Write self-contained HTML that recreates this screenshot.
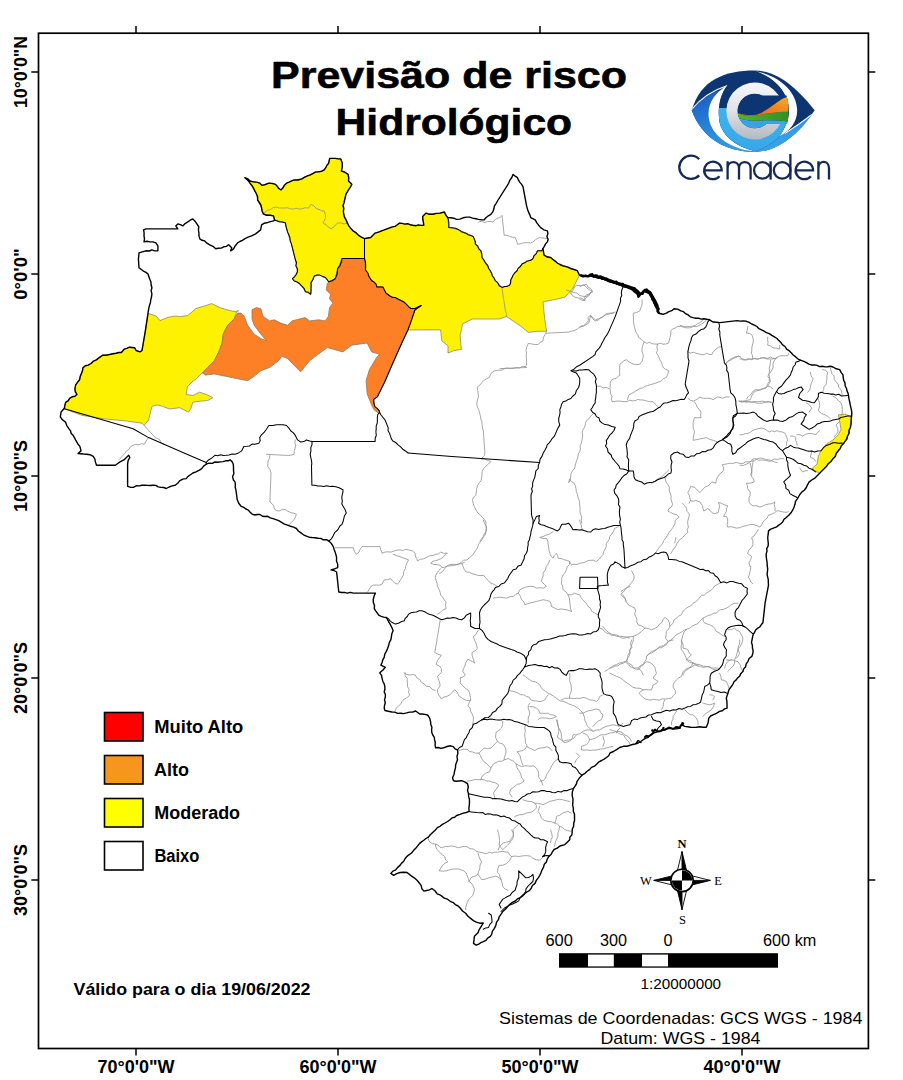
<!DOCTYPE html>
<html><head><meta charset="utf-8"><style>
html,body{margin:0;padding:0;background:#fff;}
body{width:903px;height:1080px;overflow:hidden;position:relative;font-family:"Liberation Sans",sans-serif;}
svg{position:absolute;left:0;top:0;}
</style></head><body>
<svg width="903" height="1080" viewBox="0 0 903 1080">
<rect x="0" y="0" width="903" height="1080" fill="#fff"/>
<polygon points="143.6,229.9 145.9,228.9 177.8,228.9 175.8,225.9 177.8,223.9 182.8,225.9 187.8,221.9 192.8,218.9 194.8,220.9 198.8,226.9 199.8,238.9 204.7,240.9 209.7,244.8 215.7,248.8 223.7,246.8 228.7,244.8 231.7,247.8 230.7,250.8 233.6,248.8 237.6,242.9 244.6,238.9 251.6,235.9 255.6,233.9 260.6,229.9 261.6,224.9 269.5,221.9 273.5,220.9 274.5,219.9 273.5,215.9 263.5,214.0 261.6,208.0 257.6,200.0 256.6,194.3 250.0,183.2 244.9,177.7 250.0,181.0 259.9,183.2 262.1,185.4 268.8,183.2 275.4,184.3 281.0,189.9 286.5,183.2 294.3,179.9 302.0,178.8 313.1,173.3 324.2,169.9 328.6,163.3 329.7,158.4 335.2,158.4 340.8,158.9 342.3,163.3 341.4,171.0 348.1,174.4 348.5,181.0 351.8,184.3 348.5,189.9 345.9,194.3 343.0,205.4 343.7,214.2 348.5,225.3 353.0,230.8 358.5,235.3 364.5,238.6 370.7,237.5 375.1,233.1 381.7,230.8 395.0,226.4 399.5,223.1 412.8,225.3 423.8,225.3 422.7,216.4 426.0,213.1 432.7,214.2 440.0,213.1 444.4,212.0 447.7,217.6 456.5,219.4 466.5,217.1 478.7,219.4 484.2,219.8 490.9,214.3 497.5,201.0 508.6,183.3 513.0,174.4 517.5,177.7 523.0,186.6 526.3,204.3 530.7,217.6 535.2,219.8 540.7,227.6 547.4,230.9 547.4,241.9 542.9,248.6 544.0,255.2 550.7,257.5 557.3,263.0 570.6,268.5 577.3,270.7 579.5,275.2 588.6,275.9 602.1,278.8 613.2,282.1 623.2,286.6 630.9,288.8 638.7,295.4 640.9,293.2 646.4,289.9 650.9,294.3 655.3,303.2 658.6,313.2 663.1,314.3 666.4,313.2 674.1,308.7 680.8,310.9 693.0,317.6 704.0,318.7 709.6,319.8 712.9,322.0 719.9,322.6 737.1,320.6 746.4,321.3 754.4,325.2 766.4,332.6 777.0,338.5 785.0,346.5 793.2,355.0 801.1,360.3 811.8,365.0 822.4,366.3 833.0,367.0 839.7,369.6 843.0,374.9 845.0,382.9 847.0,390.9 849.0,398.9 851.0,408.2 851.6,416.1 851.0,424.1 849.0,433.4 845.0,441.4 838.3,450.7 833.0,458.7 826.4,466.6 819.7,473.3 816.7,476.2 809.2,481.9 804.5,490.0 801.7,492.1 797.3,498.8 792.8,509.9 786.2,517.6 778.4,525.4 768.5,530.9 768.0,540.9 766.2,556.4 767.4,571.9 768.5,585.2 765.1,602.9 762.9,622.8 757.4,628.4 753.0,635.0 752.0,640.0 752.9,653.3 747.9,661.6 742.9,671.6 736.2,679.9 731.3,686.5 727.9,693.2 726.3,698.1 727.1,708.1 719.6,711.4 713.0,714.8 708.8,718.1 708.0,723.1 706.3,727.2 696.4,727.2 684.8,726.4 681.4,724.7 679.8,728.0 673.1,728.9 666.5,728.9 659.8,731.4 653.2,733.0 649.9,735.5 643.2,739.7 638.2,743.0 631.6,744.7 623.3,746.3 616.6,749.6 610.0,753.0 608.7,755.7 599.0,761.8 586.8,771.5 581.9,775.2 577.1,781.3 573.4,788.6 572.2,795.9 573.4,808.1 574.6,820.3 572.2,832.4 569.7,839.8 564.9,844.6 560.0,846.0 554.1,849.5 548.8,856.6 543.5,867.2 538.2,877.8 531.1,888.5 520.5,897.3 509.9,904.4 502.8,911.5 499.2,916.8 496.6,922.1 493.9,929.2 490.4,936.3 483.3,941.6 476.2,945.2 473.5,943.4 474.4,936.3 478.0,932.8 480.6,927.4 483.3,923.0 476.2,922.1 470.9,918.6 465.6,913.3 460.2,908.0 453.2,902.6 444.3,898.2 437.2,893.8 431.9,888.5 423.9,891.1 419.5,883.2 414.2,877.8 407.1,872.5 400.0,872.5 393.7,875.4 390.8,873.4 397.7,867.4 400.0,865.4 408.9,854.8 417.7,845.9 428.3,837.1 435.4,830.0 440.0,826.3 445.0,823.0 450.0,819.7 456.6,815.5 463.3,813.1 469.1,811.4 469.5,801.7 468.5,793.7 467.5,783.7 461.5,780.7 453.5,780.7 452.5,777.7 455.5,767.8 457.5,759.8 457.5,749.8 450.6,745.8 443.6,747.8 435.6,747.8 434.6,739.9 431.6,729.9 430.6,721.9 427.6,715.0 419.7,714.0 415.7,711.0 412.7,712.0 403.7,713.6 391.8,712.0 385.0,710.5 384.2,708.3 385.3,697.2 384.2,683.9 379.8,672.8 385.3,667.3 380.9,665.1 384.2,657.3 387.6,648.5 390.9,639.6 393.1,630.7 388.7,621.9 386.4,617.5 378.7,615.2 374.3,608.6 373.2,599.7 375.4,593.1 353.2,593.1 338.8,592.0 336.6,572.0 331.1,569.8 337.7,567.6 336.6,557.7 333.3,546.6 328.9,541.0 320.8,538.4 306.4,536.2 300.9,532.9 296.4,528.5 287.6,525.1 278.7,520.7 267.7,516.3 252.1,514.1 243.8,507.4 241.1,506.3 237.2,499.6 236.6,495.2 235.0,481.9 233.3,479.7 233.3,464.2 230.0,459.8 228.3,460.8 215.0,462.0 206.2,464.2 201.7,468.6 192.9,473.0 186.2,478.6 179.6,480.8 175.2,485.2 166.3,488.5 153.0,485.2 141.9,485.2 130.9,487.4 127.6,486.3 127.6,464.2 129.8,457.5 128.7,455.3 124.2,459.7 115.4,465.3 96.5,465.3 95.4,461.9 93.2,456.4 86.6,454.2 78.0,453.5 81.0,450.9 79.9,446.4 74.4,437.6 68.9,428.7 65.5,422.1 62.2,419.5 60.3,416.9 61.0,412.3 64.3,408.3 65.6,402.3 69.6,398.3 74.9,396.3 76.9,394.4 74.9,389.0 75.6,385.0 79.6,379.7 81.6,373.1 82.9,367.8 88.2,365.1 93.5,361.1 98.9,357.8 102.8,355.1 109.5,354.5 116.1,353.2 121.4,352.5 124.1,349.2 129.4,347.2 134.7,347.8 136.1,350.5 140.0,351.8 142.0,350.5 145.4,330.6 148.0,313.3 150.7,300.0 151.9,287.7 150.9,281.7 148.9,276.7 147.9,273.8 143.0,270.8 139.0,267.8 139.0,252.8 144.0,251.4 151.9,249.8 157.9,250.8 157.9,245.8 155.9,242.9 149.9,241.9 144.0,241.9" fill="#ffffff" stroke="none" stroke-width="0" stroke-linejoin="round" />
<polygon points="148.0,313.3 156.0,316.0 160.0,320.6 168.0,317.3 175.0,316.0 179.8,316.6 187.8,315.6 195.8,308.6 205.7,305.6 211.7,303.6 219.7,307.6 229.7,310.6 235.6,311.6 238.6,310.6 236.5,312.0 234.3,318.7 227.7,325.3 223.2,334.2 222.1,343.0 218.8,351.9 214.4,360.7 207.7,367.4 202.2,372.9 196.6,378.5 192.0,382.0 187.4,386.6 186.2,394.4 192.9,395.5 199.5,392.2 206.2,394.4 212.8,397.7 207.7,400.6 201.7,401.0 192.9,402.1 190.7,408.8 188.5,412.1 179.6,407.7 169.3,409.0 162.6,406.3 157.3,405.0 152.0,406.3 148.6,419.9 144.2,425.4 142.0,423.2 126.4,421.0 104.3,418.8 82.1,415.4 64.4,408.8 65.6,402.3 69.6,398.3 74.9,396.3 76.9,394.4 74.9,389.0 75.6,385.0 79.6,379.7 81.6,373.1 82.9,367.8 88.2,365.1 93.5,361.1 98.9,357.8 102.8,355.1 109.5,354.5 116.1,353.2 121.4,352.5 124.1,349.2 129.4,347.2 134.7,347.8 136.1,350.5 140.0,351.8 142.0,350.5 145.4,330.6" fill="#fff200" stroke="#8a8a6a" stroke-width="0.8" stroke-linejoin="round" />
<polygon points="244.9,177.7 250.0,181.0 259.9,183.2 262.1,185.4 268.8,183.2 275.4,184.3 281.0,189.9 286.5,183.2 294.3,179.9 302.0,178.8 313.1,173.3 324.2,169.9 328.6,163.3 329.7,158.4 335.2,158.4 340.8,158.9 342.3,163.3 341.4,171.0 348.1,174.4 348.5,181.0 351.8,184.3 348.5,189.9 345.9,194.3 343.0,205.4 343.7,214.2 348.5,225.3 353.0,230.8 358.5,235.3 364.5,238.6 364.5,258.5 341.9,258.5 337.3,271.0 335.1,278.8 328.6,281.8 325.3,277.4 319.7,275.1 314.2,276.2 310.9,282.9 310.7,294.3 305.4,291.7 301.4,285.7 292.4,278.7 297.4,271.8 295.4,259.8 291.4,243.9 287.5,231.9 285.5,222.9 274.5,219.9 273.5,215.9 263.5,214.0 261.6,208.0 257.6,200.0 256.6,194.3 250.0,183.2" fill="#fff200" stroke="#8a8a6a" stroke-width="0.8" stroke-linejoin="round" />
<polygon points="364.5,238.6 370.7,237.5 375.1,233.1 381.7,230.8 395.0,226.4 399.5,223.1 412.8,225.3 423.8,225.3 422.7,216.4 426.0,213.1 432.7,214.2 440.0,213.1 444.4,212.0 447.7,217.6 448.8,227.6 458.8,229.8 473.2,236.4 475.4,244.2 480.9,250.8 482.0,257.5 488.7,268.5 495.3,280.7 502.0,287.4 509.7,285.1 513.0,275.2 521.9,264.1 533.0,258.6 537.4,250.8 541.8,250.8 542.9,248.6 544.0,255.2 550.7,257.5 557.3,263.0 570.6,268.5 577.3,270.7 579.5,275.2 577.1,280.0 572.8,288.5 564.9,297.1 555.1,299.5 543.0,301.9 544.2,314.1 545.4,323.8 546.6,331.2 538.1,331.2 528.3,332.4 521.0,326.3 513.7,321.4 506.4,316.5 499.1,319.0 486.9,319.0 472.3,319.0 462.6,323.8 460.1,336.0 461.4,349.4 454.0,350.6 448.0,353.1 448.0,345.8 441.9,340.9 440.6,329.9 418.7,329.9 407.9,330.0 410.2,323.8 414.9,310.0 414.9,308.5 410.9,308.5 408.9,307.0 403.9,302.0 397.9,299.0 389.9,296.0 385.9,293.0 382.9,287.0 376.9,287.0 373.9,282.0 369.9,278.0 367.9,273.0 365.4,270.0 364.5,258.5" fill="#fff200" stroke="#8a8a6a" stroke-width="0.8" stroke-linejoin="round" />
<polygon points="838.3,414.8 845.0,414.1 851.0,416.8 851.6,418.0 851.0,424.1 849.0,433.4 845.0,441.4 838.3,450.7 833.0,458.7 826.4,466.6 819.7,473.3 814.4,470.6 812.4,468.0 817.1,464.0 818.4,456.0 821.1,450.7 826.4,444.0 833.0,440.0 838.3,434.7 841.0,429.4 839.7,421.4" fill="#fff200" stroke="#8a8a6a" stroke-width="0.8" stroke-linejoin="round" />
<polygon points="341.9,258.5 364.5,258.5 365.4,270.0 367.9,273.0 369.9,278.0 373.9,282.0 376.9,287.0 382.9,287.0 385.9,293.0 389.9,296.0 397.9,299.0 403.9,302.0 408.9,307.0 410.9,308.5 414.9,308.5 417.9,307.0 421.2,305.6 414.9,310.0 410.2,323.8 407.9,330.0 401.7,343.3 391.9,365.3 384.6,382.3 377.3,396.9 373.7,399.4 374.9,406.7 379.5,411.1 379.4,413.9 373.8,409.5 371.6,405.0 367.2,394.0 366.1,380.7 369.4,369.6 376.0,358.5 379.4,354.1 371.6,351.9 367.2,343.0 351.7,345.2 342.8,351.9 327.3,347.5 318.5,354.1 309.6,360.7 300.7,371.8 294.1,365.2 287.5,358.5 281.9,356.3 278.6,360.7 269.7,367.4 260.9,370.7 254.2,376.2 247.6,380.7 236.5,378.5 225.4,376.2 214.4,374.0 205.5,375.1 202.2,372.9 207.7,367.4 214.4,360.7 218.8,351.9 222.1,343.0 223.2,334.2 227.7,325.3 234.3,318.7 237.6,313.1 240.9,313.1 244.3,316.4 247.6,325.3 254.2,334.2 260.9,338.6 266.4,340.8 260.9,334.2 254.2,325.3 252.0,318.7 252.0,309.8 256.4,307.6 260.9,308.7 263.1,316.4 269.7,320.9 274.2,319.8 280.8,323.1 287.5,325.3 291.9,320.9 300.7,318.7 305.2,317.6 309.6,320.9 318.5,319.8 325.1,320.9 328.4,316.4 329.5,307.6 332.9,303.2 329.5,298.7 330.6,294.3 326.2,289.9 327.3,283.2 335.1,278.8 337.3,271.0" fill="#fd7f26" stroke="#8a7a6a" stroke-width="0.8" stroke-linejoin="round" />
<polyline points="262.1,214.2 264.7,212.3 267.3,210.4 270.6,209.5 273.2,207.6 276.0,207.0 278.7,207.9 281.5,208.0 284.5,208.0 287.5,207.8 290.4,208.8 293.4,209.0 296.1,208.2 298.7,208.9 301.4,209.0 305.0,207.8 308.7,208.0 310.9,204.3 314.1,206.0 316.4,208.7 319.0,209.3 321.4,210.8 324.2,211.0 325.4,214.8 325.3,218.7 323.0,223.1 325.9,224.5 328.1,226.9 330.8,228.6 333.5,227.4 335.3,225.0 337.5,223.1 340.8,222.9 344.1,223.9 347.4,223.1" fill="none" stroke="#8f8f8f" stroke-width="0.8" stroke-linejoin="round" stroke-linecap="round" />
<polyline points="478.7,222.0 481.6,221.2 484.4,222.6 487.3,221.6 490.1,221.4 493.0,222.0 494.9,219.8 497.3,218.4 500.1,217.5 502.0,215.4 504.2,235.3 507.1,235.3 509.7,236.5 512.4,237.2 515.2,237.5 516.6,240.8 517.5,244.2 520.1,244.0 522.7,243.0 525.4,242.7 528.0,242.7 530.7,243.0 533.1,241.9 535.1,240.1 537.2,238.6 539.6,237.5 542.2,238.0 544.8,238.2 547.4,238.6" fill="none" stroke="#8f8f8f" stroke-width="0.8" stroke-linejoin="round" stroke-linecap="round" />
<polyline points="502.0,288.5 505.3,310.0 506.2,313.2 506.4,316.5" fill="none" stroke="#8f8f8f" stroke-width="0.8" stroke-linejoin="round" stroke-linecap="round" />
<polyline points="570.6,292.9 572.5,290.9 573.8,288.6 575.0,286.2 577.9,285.4 580.9,285.6 583.9,285.1 586.1,286.8 588.0,289.0 590.3,290.4 592.8,291.8 589.6,293.8 586.1,295.1 584.7,297.7 585.0,300.6 582.3,300.4 580.0,299.1 577.6,297.7 575.0,297.3 572.4,295.5 570.6,292.9" fill="none" stroke="#8f8f8f" stroke-width="0.8" stroke-linejoin="round" stroke-linecap="round" />
<polyline points="566.4,290.0 569.8,291.1 573.1,292.2 576.8,293.1 579.7,295.5 583.0,296.3 586.4,296.6 588.9,294.7 590.8,292.2" fill="none" stroke="#8f8f8f" stroke-width="0.8" stroke-linejoin="round" stroke-linecap="round" />
<polyline points="546.5,333.2 568.7,332.1 571.7,331.1 574.8,330.5 577.5,328.8 580.1,327.1 583.2,326.3 585.9,324.7 588.6,323.2 589.5,320.7 590.0,318.0 590.8,315.5 592.5,318.6 595.2,321.0 598.2,320.1 600.5,317.9 603.3,316.6 605.5,314.2 608.5,313.3 611.9,313.0 615.2,312.1" fill="none" stroke="#8f8f8f" stroke-width="0.8" stroke-linejoin="round" stroke-linecap="round" />
<polyline points="546.6,331.2 545.2,334.3 543.4,337.4 543.0,340.9 540.2,342.3 538.1,344.6 534.8,344.5 531.5,343.9 528.3,343.3 526.8,346.9 525.9,350.6 526.7,353.2 526.0,355.9 526.5,358.6 526.6,361.2 526.6,363.9 525.9,366.5 522.6,366.4 519.5,367.9 516.2,367.7 513.2,368.4 510.1,368.5 507.0,368.0 504.0,368.9 501.4,370.2 498.5,370.2 495.7,370.7 493.0,371.4 490.6,374.1 489.4,377.4 486.7,378.6 484.2,380.2 482.1,382.3 479.9,385.0 477.2,387.2 477.7,390.4 478.2,393.6 478.4,396.9 477.4,400.1 476.8,403.3 477.2,406.7 478.7,409.6 479.5,412.6 480.3,415.7 480.8,418.9 481.9,421.8 482.1,424.9 482.5,428.0 483.3,431.0 484.5,448.1 484.9,451.8 484.5,455.4" fill="none" stroke="#8f8f8f" stroke-width="0.8" stroke-linejoin="round" stroke-linecap="round" />
<polyline points="526.6,367.5 500.0,368.6" fill="none" stroke="#8f8f8f" stroke-width="0.8" stroke-linejoin="round" stroke-linecap="round" />
<polyline points="483.5,456.5 481.0,459.0 484.5,459.0 487.6,460.5 490.8,461.4 488.5,464.0 485.9,466.2 483.5,468.7 482.1,471.6 481.9,474.7 481.6,477.8 481.0,480.9 479.0,483.2 477.4,485.8 476.5,489.4 476.2,493.1 475.6,495.9 473.1,497.7 472.5,500.4 473.3,503.8 474.4,507.1 476.2,510.1 477.7,512.9 480.2,514.9 482.2,517.3 484.5,519.4 485.9,522.3 485.7,525.6 486.6,528.8 485.9,532.1 485.1,534.9 483.4,537.2 482.0,539.7 480.3,541.9 478.6,544.2 477.8,547.0 476.4,549.5 474.7,551.8 473.3,554.3 471.3,556.4 469.0,558.1 466.8,560.0 463.7,560.2 461.4,562.1 459.1,563.7 456.2,564.9 453.1,565.4 450.0,565.8 446.9,566.2 444.6,568.8 442.5,571.5 439.6,573.5" fill="none" stroke="#8f8f8f" stroke-width="0.8" stroke-linejoin="round" stroke-linecap="round" />
<polyline points="335.5,547.7 353.2,547.7 354.3,551.3 356.5,554.3 359.0,552.2 360.2,549.1 362.1,546.6 379.8,546.6 380.9,549.9 382.0,553.2 384.9,552.1 387.9,551.8 390.9,552.1 393.8,551.1 396.7,550.2 399.7,549.9 402.7,550.5 405.6,549.3 408.6,549.9 412.3,550.8 415.2,553.2 415.2,556.0 416.7,558.4 417.5,561.0 420.2,559.3 423.4,558.9 426.3,557.7 429.4,555.8 433.0,555.4 435.6,554.3 438.5,553.9 440.7,552.1 443.9,553.3 447.4,553.2 445.0,554.8 443.2,557.2 440.7,558.8 438.2,559.8 435.7,560.8 433.0,561.0 430.7,563.2 433.9,564.4 437.4,564.7 440.7,565.4 441.8,567.6 444.7,567.2 447.3,565.7 450.0,564.7 452.9,564.3 455.8,564.4 458.7,564.3 461.5,563.6 464.3,562.6" fill="none" stroke="#8f8f8f" stroke-width="0.8" stroke-linejoin="round" stroke-linecap="round" />
<polyline points="393.1,554.3 408.6,559.9 407.0,562.7 405.9,565.6 405.3,568.7 403.8,571.5 403.5,574.8 402.0,577.6 400.5,579.8 399.2,582.1 397.5,584.2 394.8,583.0 392.6,581.1 390.9,578.7 387.6,579.6 384.2,579.8 382.0,584.2 379.3,585.2 376.4,585.0 373.5,585.1 370.9,586.4 369.3,589.2 367.6,592.0" fill="none" stroke="#8f8f8f" stroke-width="0.8" stroke-linejoin="round" stroke-linecap="round" />
<polyline points="440.7,568.7 438.7,570.5 437.2,572.7 435.9,575.0 435.2,577.6 436.2,580.5 437.1,583.4 437.4,586.4 438.9,589.2 440.1,592.2 440.7,595.3 442.9,597.2 444.2,599.9 446.2,602.0 445.5,605.3 446.2,608.6 443.0,609.9 440.4,612.3 437.4,614.1" fill="none" stroke="#8f8f8f" stroke-width="0.8" stroke-linejoin="round" stroke-linecap="round" />
<polyline points="461.7,563.2 463.0,566.3 464.2,569.3 466.2,572.0 469.3,572.1 472.0,573.8 475.0,574.3 477.9,575.4 480.9,575.5 483.9,575.4 485.8,578.2 488.3,580.5 490.5,583.1 494.1,584.3 497.2,586.4" fill="none" stroke="#8f8f8f" stroke-width="0.8" stroke-linejoin="round" stroke-linecap="round" />
<polyline points="266.5,454.3 286.5,455.4 290.4,455.3 294.2,454.3 294.1,451.4 295.1,448.6 295.7,445.7 294.9,442.8 295.3,439.9" fill="none" stroke="#8f8f8f" stroke-width="0.8" stroke-linejoin="round" stroke-linecap="round" />
<polyline points="269.9,455.4 269.5,458.2 268.1,460.8 267.9,463.6 267.7,466.4 269.9,469.5 271.0,473.1 269.9,501.9 272.1,503.7 273.7,505.9 274.3,508.9 276.5,510.7 279.5,510.9 282.4,509.4 285.4,509.6 287.9,511.2 290.6,512.6 293.5,513.2 296.4,514.1 295.5,516.9 294.2,519.6 291.4,522.3 288.7,525.1" fill="none" stroke="#8f8f8f" stroke-width="0.8" stroke-linejoin="round" stroke-linecap="round" />
<polyline points="144.2,425.4 155.2,437.6 157.8,438.7 160.1,440.2 161.4,443.2 164.1,444.2" fill="none" stroke="#8f8f8f" stroke-width="0.8" stroke-linejoin="round" stroke-linecap="round" />
<polyline points="148.6,437.6 146.9,439.7 145.6,442.0 144.2,444.2 141.4,443.7 138.7,444.9 135.8,444.4 133.1,445.3 130.5,446.7 128.9,449.4 126.4,450.9 124.8,453.4 122.8,455.5 121.0,457.8 118.7,459.7" fill="none" stroke="#8f8f8f" stroke-width="0.8" stroke-linejoin="round" stroke-linecap="round" />
<polyline points="593.0,414.0 590.7,416.1 588.9,418.8 586.4,420.7 585.4,423.7 584.8,426.8 583.1,429.5 582.1,432.2 582.7,435.1 582.3,437.8 581.9,440.6 581.2,443.3 580.1,446.0 580.4,449.0 579.7,451.7 578.1,454.1 577.9,457.0 577.0,459.7 576.1,462.3 575.3,465.0 574.6,468.3 572.5,470.9 570.9,473.8 570.7,476.9 570.3,479.9 568.7,482.7 569.6,478.9 571.1,481.4 573.8,482.9 575.2,485.5 576.0,488.5 576.3,491.5 577.4,494.4 578.0,497.4 579.2,500.2 579.6,503.2 579.8,506.0 580.1,508.8 579.9,511.6 580.7,514.3 581.7,517.2 581.3,520.2 581.8,523.2" fill="none" stroke="#8f8f8f" stroke-width="0.8" stroke-linejoin="round" stroke-linecap="round" />
<polyline points="694.4,401.8 696.1,404.3 697.1,407.1 699.4,409.5 701.1,412.4 700.6,415.0 701.1,417.7 697.8,417.7 694.4,417.7 693.6,420.3 693.1,423.0 693.1,425.7 693.3,428.4 694.4,431.0 694.1,434.1 693.3,437.2 693.1,440.3 696.4,439.7 699.7,439.0 703.1,438.3 706.4,437.6 709.6,439.3 713.0,440.3 717.0,441.6" fill="none" stroke="#8f8f8f" stroke-width="0.8" stroke-linejoin="round" stroke-linecap="round" />
<polyline points="725.0,364.6 727.6,361.8 730.3,359.2 733.0,358.0 735.6,356.6 740.0,356.6" fill="none" stroke="#8f8f8f" stroke-width="0.8" stroke-linejoin="round" stroke-linecap="round" />
<polyline points="680.0,325.2 682.7,326.1 685.1,327.7 688.0,327.9 690.7,327.6 693.3,326.6 696.7,326.5 699.9,325.2 703.9,322.6 706.6,319.9" fill="none" stroke="#8f8f8f" stroke-width="0.8" stroke-linejoin="round" stroke-linecap="round" />
<polyline points="688.0,351.8 690.5,353.0 693.3,352.3 695.9,353.2 698.6,353.9 701.3,354.5 704.1,354.6 706.6,353.2 709.1,354.4 711.9,354.5 713.4,351.5 715.9,349.2 718.3,347.3 721.2,346.5" fill="none" stroke="#8f8f8f" stroke-width="0.8" stroke-linejoin="round" stroke-linecap="round" />
<polyline points="747.8,326.6 747.2,329.9 746.4,333.2 749.3,333.2 751.8,334.6 752.7,337.2 753.4,339.7 753.1,342.5 752.4,345.1 751.8,347.8 751.8,350.5 751.3,353.2 752.8,355.8 752.4,358.5" fill="none" stroke="#8f8f8f" stroke-width="0.8" stroke-linejoin="round" stroke-linecap="round" />
<polyline points="725.2,365.1 727.8,361.1 730.7,360.1 733.2,358.5 736.0,357.4 738.5,355.8 740.9,357.4 742.5,359.8 745.9,360.1 749.1,359.1 751.8,359.7 754.4,358.3 757.1,359.4 759.7,358.5 762.4,358.0 765.0,357.8 767.8,358.3 770.4,357.1 772.9,358.3 775.7,358.5 778.1,356.6 781.0,355.8 784.3,355.7 787.6,355.8 789.0,353.2" fill="none" stroke="#8f8f8f" stroke-width="0.8" stroke-linejoin="round" stroke-linecap="round" />
<polyline points="767.7,337.2 767.7,339.9 768.0,342.5 767.7,345.2 770.6,346.0 773.0,347.8 776.4,348.2 779.7,349.2 779.7,345.2" fill="none" stroke="#8f8f8f" stroke-width="0.8" stroke-linejoin="round" stroke-linecap="round" />
<polyline points="775.7,358.5 774.0,361.0 773.0,363.8 773.2,367.3 771.7,370.4 769.0,374.4 769.6,377.8 770.4,381.1 769.1,383.8 767.7,386.4 765.4,388.4 762.4,389.0 759.8,390.2 757.0,390.6 754.4,391.7 751.8,395.7 750.4,399.7 747.1,400.3 743.8,401.0 739.8,401.0" fill="none" stroke="#8f8f8f" stroke-width="0.8" stroke-linejoin="round" stroke-linecap="round" />
<polyline points="767.7,386.4 770.7,387.0 773.0,389.0" fill="none" stroke="#8f8f8f" stroke-width="0.8" stroke-linejoin="round" stroke-linecap="round" />
<polyline points="688.0,398.3 690.3,400.4 693.3,401.0 696.9,399.4 699.9,397.0 703.1,398.4 706.6,398.3 710.0,398.3 713.2,399.7 717.2,397.0 719.9,397.3 722.5,398.3 725.7,396.9 729.2,397.0" fill="none" stroke="#8f8f8f" stroke-width="0.8" stroke-linejoin="round" stroke-linecap="round" />
<polyline points="738.5,401.0 741.1,401.9 743.8,401.5 746.4,402.3 749.1,401.7 751.7,402.2 754.4,402.3 757.0,403.2 759.7,403.3 762.4,403.0 765.5,402.4 768.6,401.9 771.7,402.3" fill="none" stroke="#8f8f8f" stroke-width="0.8" stroke-linejoin="round" stroke-linecap="round" />
<polyline points="810.4,372.3 811.1,375.9 813.1,378.9 812.1,381.5 811.0,384.1 810.4,386.9 809.7,389.9 807.8,392.2" fill="none" stroke="#8f8f8f" stroke-width="0.8" stroke-linejoin="round" stroke-linecap="round" />
<polyline points="822.4,369.6 825.4,370.3 827.7,372.3 826.9,375.4 827.0,378.5 826.4,381.6 826.2,384.5 823.9,386.7 823.7,389.6 822.4,392.2" fill="none" stroke="#8f8f8f" stroke-width="0.8" stroke-linejoin="round" stroke-linecap="round" />
<polyline points="830.4,368.3 831.2,371.0 832.0,373.8 834.2,376.0 834.1,379.2 835.7,381.6 838.1,383.9 838.7,387.3 841.0,389.6 841.7,392.2 842.3,394.9" fill="none" stroke="#8f8f8f" stroke-width="0.8" stroke-linejoin="round" stroke-linecap="round" />
<polyline points="818.4,398.9 819.3,402.1 819.7,405.5 819.0,408.1 818.4,410.8 821.3,413.4 825.0,414.8 827.9,416.5 830.4,418.8" fill="none" stroke="#8f8f8f" stroke-width="0.8" stroke-linejoin="round" stroke-linecap="round" />
<polyline points="833.0,396.2 836.1,397.9 838.3,400.6 841.0,402.8 842.1,406.1 842.3,409.5 842.3,412.9 841.0,416.1" fill="none" stroke="#8f8f8f" stroke-width="0.8" stroke-linejoin="round" stroke-linecap="round" />
<polyline points="806.4,402.8 809.5,405.1 811.8,408.2 809.1,412.1" fill="none" stroke="#8f8f8f" stroke-width="0.8" stroke-linejoin="round" stroke-linecap="round" />
<polyline points="797.1,434.7 800.0,434.7 802.5,436.1 805.6,434.3 809.1,433.4 812.5,433.7 815.7,434.7 817.5,432.5 819.7,430.7" fill="none" stroke="#8f8f8f" stroke-width="0.8" stroke-linejoin="round" stroke-linecap="round" />
<polyline points="740.0,434.7 742.7,434.7 745.3,433.5 748.0,433.4 750.6,432.1 753.0,430.2 755.9,429.4 758.5,428.5 761.3,428.1 764.3,428.7 766.8,430.4 769.2,432.1 771.7,430.8 774.6,431.6 777.2,430.7 779.8,431.7 782.7,432.0 785.2,433.4 786.5,436.7 787.8,440.0 786.4,442.5 786.5,445.4" fill="none" stroke="#8f8f8f" stroke-width="0.8" stroke-linejoin="round" stroke-linecap="round" />
<polyline points="790.5,436.1 793.3,436.1 795.8,437.4 795.7,440.2 796.8,442.7 797.1,445.4" fill="none" stroke="#8f8f8f" stroke-width="0.8" stroke-linejoin="round" stroke-linecap="round" />
<polyline points="740.0,359.0 742.6,359.0 745.3,359.6 748.0,358.8 750.6,359.0 753.3,358.7 756.0,358.7 758.7,358.8 761.3,357.7 764.0,357.8 766.5,358.9 769.2,359.0 771.9,359.0 774.6,358.6 777.2,357.7" fill="none" stroke="#8f8f8f" stroke-width="0.8" stroke-linejoin="round" stroke-linecap="round" />
<polyline points="770.6,360.3 770.3,363.0 769.9,365.7 769.2,368.3 769.5,371.1 769.0,373.7 767.9,376.3 769.3,378.8 769.2,381.6 767.5,384.1 766.6,386.9 764.1,388.1 761.4,389.0 758.8,390.0 755.8,389.5 753.3,390.9 750.6,394.9 748.2,396.5 746.6,398.9" fill="none" stroke="#8f8f8f" stroke-width="0.8" stroke-linejoin="round" stroke-linecap="round" />
<polyline points="740.0,401.5 742.6,402.0 745.3,401.5 748.0,401.6 750.6,402.2 753.7,401.6 756.8,401.7 759.9,401.5 762.6,401.1 765.3,401.8 768.0,401.6 770.6,402.2" fill="none" stroke="#8f8f8f" stroke-width="0.8" stroke-linejoin="round" stroke-linecap="round" />
<polyline points="740.0,465.3 743.5,465.4 746.6,464.0 749.3,462.9 751.1,460.5 753.3,458.7 756.0,458.7 758.5,460.3 761.3,460.0 764.0,460.1 766.6,460.6 769.2,461.3 772.0,460.9 774.6,462.0 777.2,462.6" fill="none" stroke="#8f8f8f" stroke-width="0.8" stroke-linejoin="round" stroke-linecap="round" />
<polyline points="753.3,460.0 752.9,462.7 752.4,465.3 752.0,468.0 751.8,471.6 750.6,475.0" fill="none" stroke="#8f8f8f" stroke-width="0.8" stroke-linejoin="round" stroke-linecap="round" />
<polyline points="811.8,450.7 811.1,454.0 810.4,457.3 813.6,458.6 815.7,461.3" fill="none" stroke="#8f8f8f" stroke-width="0.8" stroke-linejoin="round" stroke-linecap="round" />
<polyline points="799.8,468.0 802.5,472.0 805.0,470.9 807.8,470.6" fill="none" stroke="#8f8f8f" stroke-width="0.8" stroke-linejoin="round" stroke-linecap="round" />
<polyline points="839.7,421.4 836.0,425.0 837.7,428.3 838.0,432.0 836.1,434.6 834.0,437.0" fill="none" stroke="#8f8f8f" stroke-width="0.8" stroke-linejoin="round" stroke-linecap="round" />
<polyline points="642.0,299.9 642.2,302.8 641.7,305.6 640.7,308.2 639.8,310.9 636.6,312.5 633.2,313.2 633.3,315.9 633.6,318.5 633.4,321.2 633.8,323.8 634.3,326.4 635.1,329.3 635.9,332.2 637.8,334.7 638.7,337.5 641.6,339.5 644.2,342.0 646.7,343.3 649.6,342.3 652.1,343.7 654.8,344.0 657.5,344.2 660.2,343.2 663.1,344.2 665.9,344.0 668.6,343.1 669.4,340.1 670.1,337.1 670.8,334.0 670.8,330.9 672.7,328.9 675.3,327.9 677.5,326.4 680.4,326.4 683.4,327.0 686.3,326.4 689.3,326.5 692.3,326.2 695.2,325.3 697.8,323.6 700.7,322.2 702.9,319.8" fill="none" stroke="#8f8f8f" stroke-width="0.8" stroke-linejoin="round" stroke-linecap="round" />
<polyline points="644.2,342.0 642.8,345.2 642.0,348.6 642.0,351.6 643.2,354.5 643.1,357.5 642.2,361.2 639.8,364.1 636.5,364.7 633.2,364.1 630.8,362.8 628.4,361.7 626.5,359.7 624.0,360.7 622.0,362.6 619.9,364.1 619.7,366.9 619.7,369.6 619.6,372.4 619.9,375.2 617.7,376.6 615.9,378.7 613.0,378.9 611.0,380.7 610.2,383.2 610.3,385.9 609.9,388.5 610.3,391.1 610.5,393.8 611.9,396.3 611.3,399.1 612.1,401.7 615.1,401.3 618.2,401.0 621.2,401.3 624.3,401.7 627.0,401.6 629.5,400.3 632.3,400.8 635.1,400.7 637.6,399.5 640.2,399.9 642.8,400.0 645.4,400.6 647.9,401.3 650.5,401.8 653.1,401.7 655.2,404.1 657.5,406.2" fill="none" stroke="#8f8f8f" stroke-width="0.8" stroke-linejoin="round" stroke-linecap="round" />
<polyline points="657.5,344.2 656.9,347.1 657.5,350.2 656.4,353.0 658.6,356.1 659.7,359.7 661.6,362.4 662.3,365.8 664.2,368.5 668.6,370.7 667.8,374.2 666.4,377.4 663.7,378.6 661.4,380.8 658.8,382.0 655.9,383.0 653.1,384.0 650.3,384.6 647.7,385.5 645.0,386.4 642.6,387.9 639.8,388.5 637.0,390.1 634.3,391.9 631.5,393.5 628.7,395.1 627.6,399.5" fill="none" stroke="#8f8f8f" stroke-width="0.8" stroke-linejoin="round" stroke-linecap="round" />
<polyline points="597.7,386.2 600.6,386.1 603.1,388.0 606.1,387.4 608.8,388.5" fill="none" stroke="#8f8f8f" stroke-width="0.8" stroke-linejoin="round" stroke-linecap="round" />
<polyline points="580.0,326.4 583.7,325.5 586.6,323.1 588.4,320.8 588.1,317.6 590.0,315.4 592.8,317.5 595.5,319.8 598.7,318.8 601.8,317.6 604.4,315.4 607.3,314.6 610.2,313.6 613.2,313.2" fill="none" stroke="#8f8f8f" stroke-width="0.8" stroke-linejoin="round" stroke-linecap="round" />
<polyline points="580.0,286.6 583.1,285.0 586.6,284.4 587.9,287.1 590.7,288.5 592.2,291.0 590.1,293.1 588.8,295.9 586.3,297.6 584.4,299.9 580.0,297.7" fill="none" stroke="#8f8f8f" stroke-width="0.8" stroke-linejoin="round" stroke-linecap="round" />
<polyline points="665.2,477.9 665.8,481.5 667.9,484.6 669.4,487.5 669.2,491.0 670.6,493.9 671.1,496.6 671.0,499.3 671.8,501.9 672.6,504.5 671.4,507.0 668.9,508.5 667.9,511.1 670.6,512.4 673.2,513.8 676.6,514.7 679.2,517.1 675.2,520.4 675.0,524.0 673.2,527.1 671.2,529.8 669.2,532.4 667.5,535.1 665.9,537.9 663.9,540.4 662.6,543.4 660.6,545.8 658.6,548.3 655.9,552.3" fill="none" stroke="#8f8f8f" stroke-width="0.8" stroke-linejoin="round" stroke-linecap="round" />
<polyline points="682.5,503.2 684.7,505.7 686.5,508.5 686.9,511.3 689.1,513.5 689.2,516.4 688.3,519.0 687.7,521.6 687.8,524.4 688.4,527.1 687.1,529.7 687.8,532.4 684.9,534.8 682.5,537.7 679.4,539.9 677.2,543.0 676.2,545.4 674.7,547.6 673.2,549.7 670.6,553.7" fill="none" stroke="#8f8f8f" stroke-width="0.8" stroke-linejoin="round" stroke-linecap="round" />
<polyline points="675.9,537.7 675.4,540.4 674.6,543.0" fill="none" stroke="#8f8f8f" stroke-width="0.8" stroke-linejoin="round" stroke-linecap="round" />
<polyline points="689.2,503.2 690.5,500.5 693.1,501.3 695.8,500.5 699.8,501.8 702.5,505.8 703.0,508.5 703.8,511.1 707.8,508.5 710.0,510.3 711.8,512.5 714.4,513.8 718.4,512.5 718.9,509.1 719.7,505.8 718.4,502.5 721.2,503.1 723.7,504.5 727.7,505.8 726.4,508.5 726.4,511.3 725.0,513.8 723.7,516.4 726.4,516.4 727.7,518.9 727.7,521.8 727.1,524.5 727.7,527.1 730.4,526.7 733.0,527.1 736.3,528.1 739.7,527.7 742.9,526.3 746.3,525.7 749.6,524.7 753.0,524.4 757.0,525.7 760.0,527.1 761.7,524.7 762.9,522.0 764.8,519.8 767.3,518.0 768.3,515.2 771.6,514.3 774.5,512.7 777.2,510.7 780.0,511.2 782.7,511.9 785.5,512.3 788.3,511.8" fill="none" stroke="#8f8f8f" stroke-width="0.8" stroke-linejoin="round" stroke-linecap="round" />
<polyline points="690.5,500.5 689.9,497.8 689.2,495.2 687.8,492.5 689.5,489.7 690.5,486.5 694.5,487.2 697.1,489.9 699.8,492.5 702.5,489.9 704.7,487.3 707.8,485.9 710.1,484.2 711.8,481.9 715.7,483.2 716.3,480.5 717.1,477.9 719.7,473.9 722.0,472.2 723.7,469.9 723.3,467.2 722.4,464.6 726.4,464.0 729.7,463.3 733.0,463.3 736.4,462.5 739.7,463.3 742.9,463.6 745.8,461.8 749.0,462.0 751.6,461.3 754.3,460.6 757.0,459.1 760.0,458.0 762.8,458.3 765.4,459.6 768.3,459.8 771.5,460.4 774.5,459.0 777.6,459.4 780.7,458.6 783.8,458.7" fill="none" stroke="#8f8f8f" stroke-width="0.8" stroke-linejoin="round" stroke-linecap="round" />
<polyline points="750.3,463.3 750.9,466.6 751.6,469.9 751.8,473.2 751.6,476.6 753.5,479.0 754.3,481.9 750.3,483.2 746.3,483.2 747.5,485.7 747.6,488.5 750.3,492.5 750.1,495.3 749.0,497.8 749.0,501.8 750.5,504.3 753.0,505.8 757.0,505.8 760.0,507.1 762.8,506.1 765.4,504.7 768.3,504.1 771.9,503.7 775.0,501.9 774.2,504.8 775.1,507.8 775.0,510.7" fill="none" stroke="#8f8f8f" stroke-width="0.8" stroke-linejoin="round" stroke-linecap="round" />
<polyline points="758.3,529.7 755.6,533.7 754.0,536.1 751.6,537.7 752.8,540.9 753.0,544.4 751.6,547.5 749.0,549.7 747.6,553.7 751.6,556.3 750.6,559.7 749.0,563.0 750.3,566.9 750.6,566.1 750.7,569.0 749.9,571.7 749.4,574.5 748.4,577.2 749.8,579.5 750.8,582.0 752.8,583.8" fill="none" stroke="#8f8f8f" stroke-width="0.8" stroke-linejoin="round" stroke-linecap="round" />
<polyline points="651.1,483.3 654.1,482.0 656.5,479.8 659.3,478.1 662.1,476.6 664.4,474.4 666.4,472.1 668.8,470.0" fill="none" stroke="#8f8f8f" stroke-width="0.8" stroke-linejoin="round" stroke-linecap="round" />
<polyline points="553.1,531.6 550.9,533.0 548.7,534.5 546.0,535.0 543.0,536.6 539.8,537.4 543.0,538.6 546.4,538.3 547.9,541.4 548.1,544.9 548.7,547.7 549.0,550.5 549.8,553.2 550.9,556.0 553.1,558.2 554.3,555.4 556.4,553.2 557.6,555.6 558.1,558.2 561.5,558.6 564.7,559.9 567.3,560.5 569.7,561.5 571.4,564.9 574.1,564.2 577.1,564.5 579.7,563.2 582.6,562.9 585.4,562.1 588.0,560.7 590.8,560.2 593.6,560.4 596.3,561.5 599.1,559.3 601.3,556.5 603.1,554.3 603.7,551.5 605.1,549.1 606.2,546.6 606.2,543.8 607.7,541.5 609.4,539.3 609.6,536.6 611.7,534.1 613.5,531.4 614.6,528.3 617.5,527.3 619.5,525.0" fill="none" stroke="#8f8f8f" stroke-width="0.8" stroke-linejoin="round" stroke-linecap="round" />
<polyline points="549.8,559.9 548.5,563.4 546.4,566.5 545.3,570.1 543.1,573.2 543.1,576.1 542.0,578.7 541.5,581.5 544.8,584.8 546.4,586.4 543.1,588.1 539.8,587.8 536.5,588.1 533.3,586.5 529.8,586.4 526.4,586.9 523.2,588.1 519.9,589.8 518.2,593.1 515.6,594.5 513.2,596.4 509.8,596.8 506.6,598.1 503.2,597.7 499.9,597.2 496.6,597.6 493.3,598.1" fill="none" stroke="#8f8f8f" stroke-width="0.8" stroke-linejoin="round" stroke-linecap="round" />
<polyline points="569.7,561.5 569.3,564.6 567.1,566.9 566.4,569.8 565.1,572.6 563.1,574.8 561.8,577.4 561.7,580.3 561.4,583.1 562.6,586.4 563.1,589.8 566.0,591.9 568.0,594.8 569.3,598.0 569.7,601.4 570.0,604.8 570.5,608.1 571.4,611.4" fill="none" stroke="#8f8f8f" stroke-width="0.8" stroke-linejoin="round" stroke-linecap="round" />
<polyline points="518.2,593.1 520.4,596.1 521.5,599.7 523.8,601.8 524.9,604.7 529.8,603.1 533.2,602.3 536.5,601.4 539.8,600.7 543.1,599.7 546.5,600.4 549.8,601.4 551.0,603.8 551.4,606.4 554.7,608.2 558.1,609.7 560.9,608.9 563.6,609.4 566.4,609.7 568.9,610.5 571.4,611.4" fill="none" stroke="#8f8f8f" stroke-width="0.8" stroke-linejoin="round" stroke-linecap="round" />
<polyline points="568.0,594.8 571.5,594.7 574.7,593.1 577.1,594.2 579.7,594.8 580.8,597.6 583.0,599.7 584.7,601.9 586.7,603.9 588.0,606.4 590.5,608.3 591.8,611.4 594.6,613.0 597.9,614.7" fill="none" stroke="#8f8f8f" stroke-width="0.8" stroke-linejoin="round" stroke-linecap="round" />
<polyline points="483.3,520.0 484.6,523.5 486.6,526.6 486.1,529.2 485.7,531.9 484.1,534.1 483.3,536.6 481.4,538.9 480.0,541.6" fill="none" stroke="#8f8f8f" stroke-width="0.8" stroke-linejoin="round" stroke-linecap="round" />
<polyline points="621.2,591.4 623.6,589.6 626.2,588.1 630.0,586.4" fill="none" stroke="#8f8f8f" stroke-width="0.8" stroke-linejoin="round" stroke-linecap="round" />
<polyline points="622.9,594.8 624.9,597.9 626.2,601.4" fill="none" stroke="#8f8f8f" stroke-width="0.8" stroke-linejoin="round" stroke-linecap="round" />
<polyline points="579.7,520.0 580.2,522.6 581.3,525.0 581.5,527.7 583.0,530.0" fill="none" stroke="#8f8f8f" stroke-width="0.8" stroke-linejoin="round" stroke-linecap="round" />
<polyline points="631.6,570.8 632.9,573.2 634.0,575.5 634.1,578.3 632.9,580.6 631.4,582.8 629.9,584.9 627.2,587.2 624.9,589.9 623.2,592.3 620.8,594.0 622.5,596.5 624.9,598.2 626.2,601.7 628.2,604.8 631.5,606.5 634.9,608.2 635.7,610.9 634.6,613.8 635.7,616.5 636.8,619.2 636.8,622.2 638.2,624.8 641.8,626.0 644.9,628.1 648.3,628.5 651.5,629.8 655.0,628.5 658.1,626.4 659.5,623.9 662.1,622.3 663.1,619.6 664.8,617.3 668.1,619.8 669.5,623.0 669.8,626.4 668.5,629.2 666.4,631.4 666.1,634.8 665.6,638.1 668.1,641.4" fill="none" stroke="#8f8f8f" stroke-width="0.8" stroke-linejoin="round" stroke-linecap="round" />
<polyline points="719.6,583.2 717.2,584.6 714.7,585.9 713.0,588.2 711.1,590.3 708.6,591.7 706.3,593.2 704.4,595.0 701.5,595.3 699.7,597.4 697.9,599.8 695.7,601.8 693.0,603.2 691.3,605.5 688.7,606.7 686.4,608.2 684.2,610.0 682.5,612.2 681.4,614.8 678.7,616.1 676.4,618.1 674.0,620.1 673.1,623.1 669.8,626.4" fill="none" stroke="#8f8f8f" stroke-width="0.8" stroke-linejoin="round" stroke-linecap="round" />
<polyline points="737.9,603.2 734.4,603.3 731.2,604.8 728.9,606.7 726.2,608.2 723.0,609.5 719.6,609.8 716.3,613.1 713.6,613.2 711.3,614.8 708.7,615.3 706.3,616.5 703.0,618.1 699.7,621.4 697.6,623.8 694.7,624.8 692.0,626.2 689.7,628.1 687.3,629.1 684.7,629.8 682.3,631.6 679.7,633.1 676.4,634.7 673.1,638.1 670.8,640.0 668.1,641.4 666.4,644.7 663.8,646.3 661.2,647.7 658.1,648.0 656.1,650.0 653.9,651.5 651.5,653.0 648.6,654.0 646.5,656.3 646.3,659.0 644.9,661.3 643.2,664.6 640.3,665.6 638.2,668.0 633.2,668.0 630.4,666.7 628.2,664.6 624.9,661.3 622.2,662.6 619.2,663.0 616.6,664.6 613.0,665.8 610.0,668.0 607.6,669.7 605.0,671.3" fill="none" stroke="#8f8f8f" stroke-width="0.8" stroke-linejoin="round" stroke-linecap="round" />
<polyline points="600.0,628.1 602.7,629.2 604.4,631.4 606.6,633.1 609.2,633.7 611.4,635.4 614.3,635.1 616.6,636.4 619.4,636.7 622.0,638.2 624.9,638.1 627.5,636.8 630.4,636.8 633.2,636.4 636.2,635.2 639.0,633.5 641.5,631.4 644.9,628.1" fill="none" stroke="#8f8f8f" stroke-width="0.8" stroke-linejoin="round" stroke-linecap="round" />
<polyline points="633.2,636.4 633.4,639.3 632.9,642.1 631.6,644.7 631.8,647.6 629.8,650.1 629.9,653.0 629.2,655.9 627.3,658.4 626.6,661.3" fill="none" stroke="#8f8f8f" stroke-width="0.8" stroke-linejoin="round" stroke-linecap="round" />
<polyline points="703.0,618.1 703.2,620.8 704.7,623.1 709.6,624.8 713.0,626.4 714.9,628.7 716.3,631.4 719.0,632.7 721.3,634.7 724.6,636.4" fill="none" stroke="#8f8f8f" stroke-width="0.8" stroke-linejoin="round" stroke-linecap="round" />
<polyline points="686.4,629.8 684.1,631.8 683.1,634.7 682.1,638.0 681.4,641.4 681.8,644.2 681.0,646.9 681.4,649.7 683.3,652.0 684.7,654.7 685.9,657.1 686.4,659.7 690.1,660.6 693.0,663.0 696.2,664.2 699.7,664.6 702.8,666.1 706.3,666.3 709.0,667.1 711.7,668.2 714.6,668.0 717.3,668.0 719.6,669.6" fill="none" stroke="#8f8f8f" stroke-width="0.8" stroke-linejoin="round" stroke-linecap="round" />
<polyline points="638.2,668.0 641.5,671.3 643.2,675.0" fill="none" stroke="#8f8f8f" stroke-width="0.8" stroke-linejoin="round" stroke-linecap="round" />
<polyline points="693.0,663.0 691.7,665.7 689.7,668.0 687.2,669.7 684.7,671.3 683.1,675.0" fill="none" stroke="#8f8f8f" stroke-width="0.8" stroke-linejoin="round" stroke-linecap="round" />
<polyline points="727.9,629.8 731.4,629.7 734.6,628.1 736.6,630.4 739.5,631.4 741.4,634.7 742.9,638.1 742.5,641.5 741.2,644.7 739.6,647.3 737.9,649.7 737.1,653.0 736.2,656.3 734.7,659.5 734.6,663.0 733.3,665.8 731.2,668.0 727.9,671.3" fill="none" stroke="#8f8f8f" stroke-width="0.8" stroke-linejoin="round" stroke-linecap="round" />
<polyline points="731.2,659.7 727.9,661.3 725.8,664.4 724.6,668.0" fill="none" stroke="#8f8f8f" stroke-width="0.8" stroke-linejoin="round" stroke-linecap="round" />
<polyline points="602.9,626.3 604.8,628.8 607.0,631.2 609.6,633.0 611.9,634.3 614.5,634.8 617.1,635.2 619.5,636.3 622.9,636.5 626.2,637.1 629.5,637.9" fill="none" stroke="#8f8f8f" stroke-width="0.8" stroke-linejoin="round" stroke-linecap="round" />
<polyline points="631.6,640.0 630.6,643.3 631.2,646.8 629.9,650.0 629.6,652.9 627.8,655.3 627.8,658.2 626.6,660.8 623.6,663.1 620.0,664.1 617.8,665.9 615.0,666.1 612.6,667.4 610.0,668.2" fill="none" stroke="#8f8f8f" stroke-width="0.8" stroke-linejoin="round" stroke-linecap="round" />
<polyline points="626.6,660.8 628.6,663.5 631.6,664.9 633.6,667.9 636.6,669.9 639.3,668.9 640.8,666.2 643.2,664.9 646.5,661.6 650.2,662.6 653.2,664.9 654.9,667.4 655.4,670.4 656.5,673.2 654.6,675.5 653.2,678.2 655.7,679.8 658.2,681.5 656.0,683.6 653.2,684.9 651.5,689.8 648.7,689.9 646.0,689.6 643.2,689.8 641.0,691.3 639.1,693.2 640.9,695.5 643.2,697.3 645.4,699.1 648.2,699.8 651.0,700.1 653.7,699.2 656.5,699.8 659.3,700.1 662.0,698.9 664.8,699.0 668.2,698.7 671.5,698.1 673.4,695.5 675.6,693.2 675.2,690.3 673.4,687.8 673.1,684.9 674.4,682.2 676.4,679.9 678.7,677.8 681.4,676.5 683.1,671.6 685.3,669.4 688.1,668.2 691.7,667.1 694.7,664.9 697.4,665.9 700.3,666.3 703.0,667.4 706.3,666.8 709.7,666.6 712.6,669.0 716.3,669.9" fill="none" stroke="#8f8f8f" stroke-width="0.8" stroke-linejoin="round" stroke-linecap="round" />
<polyline points="610.0,673.2 613.3,674.9 616.6,676.5 620.2,677.8 623.3,679.9 625.2,682.0 627.5,683.4 629.9,684.9 632.9,687.3 636.6,688.2 640.1,688.3 643.2,689.8" fill="none" stroke="#8f8f8f" stroke-width="0.8" stroke-linejoin="round" stroke-linecap="round" />
<polyline points="646.5,656.6 649.0,654.1 651.5,651.6 654.5,650.4 657.3,648.8 659.8,646.6 663.5,645.6 666.5,643.3 669.5,641.0 673.1,640.0" fill="none" stroke="#8f8f8f" stroke-width="0.8" stroke-linejoin="round" stroke-linecap="round" />
<polyline points="681.4,640.0 682.3,642.7 683.2,645.4 683.1,648.3 685.8,648.7 688.1,650.0 689.1,652.9 691.4,655.0 688.8,657.3 686.4,659.9 689.4,662.3 693.1,663.3 695.6,664.3 698.0,665.7" fill="none" stroke="#8f8f8f" stroke-width="0.8" stroke-linejoin="round" stroke-linecap="round" />
<polyline points="664.8,699.8 663.4,703.0 663.2,706.4 661.5,709.8" fill="none" stroke="#8f8f8f" stroke-width="0.8" stroke-linejoin="round" stroke-linecap="round" />
<polyline points="676.4,711.4 674.8,713.9 673.1,716.4 673.0,719.2 671.6,721.8 671.5,724.7" fill="none" stroke="#8f8f8f" stroke-width="0.8" stroke-linejoin="round" stroke-linecap="round" />
<polyline points="684.8,709.8 688.1,713.1 690.4,714.7 693.1,714.8 696.4,718.1 697.9,721.2 698.0,724.7" fill="none" stroke="#8f8f8f" stroke-width="0.8" stroke-linejoin="round" stroke-linecap="round" />
<polyline points="703.0,703.1 706.3,704.1 709.7,704.8 712.3,704.1 714.7,703.1 713.4,706.7 711.3,709.8 708.9,711.6 706.3,713.1 703.0,716.4" fill="none" stroke="#8f8f8f" stroke-width="0.8" stroke-linejoin="round" stroke-linecap="round" />
<polyline points="709.7,694.8 712.4,695.1 714.7,696.5 713.0,699.8" fill="none" stroke="#8f8f8f" stroke-width="0.8" stroke-linejoin="round" stroke-linecap="round" />
<polyline points="719.6,673.2 720.9,676.4 721.3,679.9 723.9,680.3 726.3,681.5 727.9,684.9 729.6,689.8" fill="none" stroke="#8f8f8f" stroke-width="0.8" stroke-linejoin="round" stroke-linecap="round" />
<polyline points="726.3,659.9 729.6,660.1 732.9,659.9 735.3,661.0 737.9,661.6 740.0,664.7 741.2,668.2 742.9,671.6" fill="none" stroke="#8f8f8f" stroke-width="0.8" stroke-linejoin="round" stroke-linecap="round" />
<polyline points="739.6,640.0 739.8,642.9 738.8,645.6 737.9,648.3 738.5,650.9 739.6,653.3 738.3,656.1 736.2,658.3" fill="none" stroke="#8f8f8f" stroke-width="0.8" stroke-linejoin="round" stroke-linecap="round" />
<polyline points="610.0,729.7 612.9,730.5 615.7,731.4 618.3,733.0 620.6,734.3 623.3,734.7 624.9,737.2 626.6,739.7 628.9,741.8 629.9,744.7" fill="none" stroke="#8f8f8f" stroke-width="0.8" stroke-linejoin="round" stroke-linecap="round" />
<polyline points="616.6,733.0 617.7,730.1 620.0,728.0" fill="none" stroke="#8f8f8f" stroke-width="0.8" stroke-linejoin="round" stroke-linecap="round" />
<polyline points="523.2,675.0 525.5,676.5 527.6,678.3 529.9,679.9 532.3,681.4 535.2,681.8 537.6,683.1 539.8,684.9 541.2,687.6 543.2,689.9 545.7,691.4 548.1,693.2 551.1,694.6 553.8,696.3 556.4,698.2 559.4,700.5 563.1,701.5 566.0,702.3 568.6,703.8 571.4,704.8 574.8,706.3 578.0,708.2 580.6,710.6 583.0,713.2 584.7,718.1 584.9,720.8 586.3,723.1 587.3,726.1 589.7,728.1 593.0,731.4" fill="none" stroke="#8f8f8f" stroke-width="0.8" stroke-linejoin="round" stroke-linecap="round" />
<polyline points="509.9,690.7 512.7,691.3 515.6,691.9 518.2,693.2 520.8,694.7 523.9,694.9 526.5,696.5 529.2,697.2 530.6,699.9 533.2,700.7 536.5,701.0 539.8,701.5 542.5,701.2 544.8,699.9 546.3,697.3 548.1,694.9" fill="none" stroke="#8f8f8f" stroke-width="0.8" stroke-linejoin="round" stroke-linecap="round" />
<polyline points="529.9,703.2 528.4,705.5 528.2,708.2 529.1,710.7 529.9,713.2 528.2,718.1 528.2,723.1" fill="none" stroke="#8f8f8f" stroke-width="0.8" stroke-linejoin="round" stroke-linecap="round" />
<polyline points="529.9,706.5 533.3,706.8 536.5,708.2 538.8,710.2 539.8,713.2 542.6,713.3 545.3,713.4 548.1,713.2 550.4,714.7 553.1,714.8 556.4,716.5 553.1,718.1 549.8,718.8 546.5,718.1 543.1,717.9 539.8,718.1 538.2,719.8" fill="none" stroke="#8f8f8f" stroke-width="0.8" stroke-linejoin="round" stroke-linecap="round" />
<polyline points="569.7,673.3 569.9,676.1 569.7,678.8 569.7,681.6 570.9,684.2 571.2,687.1 571.4,689.9 570.8,692.7 569.6,695.3 569.7,698.2" fill="none" stroke="#8f8f8f" stroke-width="0.8" stroke-linejoin="round" stroke-linecap="round" />
<polyline points="561.4,699.9 564.6,698.4 568.1,698.2 570.9,698.2 573.6,698.7 576.4,698.2 579.8,698.6 583.0,697.4 586.5,698.2 589.7,699.9 593.1,700.1 596.3,701.5 598.6,699.4 599.6,696.5 603.0,694.9" fill="none" stroke="#8f8f8f" stroke-width="0.8" stroke-linejoin="round" stroke-linecap="round" />
<polyline points="579.7,713.2 583.2,713.1 586.3,711.5 589.6,710.6 593.0,709.8 596.3,709.0 599.6,709.8 600.7,712.7 603.0,714.8 602.3,717.4 601.3,719.8 598.4,720.9 596.3,723.1 593.0,726.4" fill="none" stroke="#8f8f8f" stroke-width="0.8" stroke-linejoin="round" stroke-linecap="round" />
<polyline points="556.4,719.8 557.1,722.4 558.1,724.8 558.4,727.5 559.8,729.8 561.2,733.0 561.4,736.4 561.8,739.1 563.1,741.4 565.8,740.4 568.6,740.1 571.4,739.7 574.3,737.7 576.4,734.8 580.0,733.6 583.0,731.4 586.2,730.1 589.7,729.8 593.0,731.4 596.2,730.1 599.6,729.8 602.9,727.9 606.3,726.4 609.6,725.6 612.9,724.8 616.3,725.4 619.6,726.4 622.9,723.1" fill="none" stroke="#8f8f8f" stroke-width="0.8" stroke-linejoin="round" stroke-linecap="round" />
<polyline points="583.0,733.1 585.9,734.2 588.0,736.4 589.7,739.7 588.4,742.4 586.3,744.7 581.4,746.4 581.4,749.7" fill="none" stroke="#8f8f8f" stroke-width="0.8" stroke-linejoin="round" stroke-linecap="round" />
<polyline points="589.7,739.7 592.6,739.0 595.5,738.1 598.0,736.4 601.1,734.8 604.6,734.8 607.1,734.1 609.6,733.1 613.0,732.7 616.2,731.4 619.7,731.5 622.9,733.1 625.1,735.2 627.9,736.4 630.1,738.5 631.2,741.4" fill="none" stroke="#8f8f8f" stroke-width="0.8" stroke-linejoin="round" stroke-linecap="round" />
<polyline points="603.0,736.4 603.6,739.0 604.6,741.4 603.7,743.9 603.0,746.4" fill="none" stroke="#8f8f8f" stroke-width="0.8" stroke-linejoin="round" stroke-linecap="round" />
<polyline points="576.4,753.0 579.7,756.3 576.4,759.7 574.7,763.0" fill="none" stroke="#8f8f8f" stroke-width="0.8" stroke-linejoin="round" stroke-linecap="round" />
<polyline points="581.4,749.7 584.1,750.2 587.0,749.9 589.7,750.5 592.5,750.1 595.2,750.1 598.0,749.7 600.7,749.0 603.6,748.8 606.3,748.0 609.6,747.1 612.9,746.4" fill="none" stroke="#8f8f8f" stroke-width="0.8" stroke-linejoin="round" stroke-linecap="round" />
<polyline points="478.7,629.9 477.0,632.2 475.7,634.9 473.3,636.6 474.5,640.0 476.0,643.2 476.7,645.8 477.3,648.5 474.9,650.9 472.0,652.5 472.2,655.9 473.3,659.2 474.7,663.2 472.7,661.5 470.2,660.6 468.0,659.2 465.4,663.2 465.0,666.0 463.6,668.5 462.7,671.1 465.4,675.1 463.0,677.0 460.0,677.8 460.6,680.5 460.0,683.1 462.8,685.7 465.4,688.4 467.9,689.9 469.4,692.4 470.1,695.7 470.7,699.0 469.3,702.3 468.0,705.7 470.0,708.0 470.5,711.1 472.0,713.7 473.3,716.9 473.3,720.3 472.9,723.0 473.3,725.6" fill="none" stroke="#8f8f8f" stroke-width="0.8" stroke-linejoin="round" stroke-linecap="round" />
<polyline points="440.1,620.6 437.5,636.6 434.8,652.5 437.9,654.3 441.4,655.2 439.4,657.8 437.5,660.5 436.1,664.5 439.2,665.9 441.4,668.5 441.4,672.5 439.4,674.4 437.5,676.4 438.8,680.4 439.7,683.0 440.1,685.7 437.5,689.7 437.4,692.5 438.8,695.0 441.4,699.0 443.8,697.1 446.8,696.4 449.8,694.9 452.1,692.4 454.7,689.7 457.4,692.4 458.7,695.6 461.4,697.7 463.9,699.4 466.7,700.4 470.7,700.4" fill="none" stroke="#8f8f8f" stroke-width="0.8" stroke-linejoin="round" stroke-linecap="round" />
<polyline points="404.2,672.8 406.8,674.4 409.7,675.0 412.4,674.5 415.2,675.0 416.8,677.8 419.7,679.4 421.3,682.2 424.1,683.9 426.5,686.2 429.9,686.7 432.2,689.3 435.2,690.5" fill="none" stroke="#8f8f8f" stroke-width="0.8" stroke-linejoin="round" stroke-linecap="round" />
<polyline points="405.3,672.8 405.1,675.7 407.1,678.2 407.2,681.1 407.5,683.9 407.6,686.8 409.2,689.3 408.5,692.4 409.7,695.0 407.3,697.5 404.2,699.0 401.9,701.6 400.7,704.2 398.6,706.0 396.4,707.8 395.3,710.5" fill="none" stroke="#8f8f8f" stroke-width="0.8" stroke-linejoin="round" stroke-linecap="round" />
<polyline points="502.8,721.3 502.6,724.7 501.5,728.0 499.1,730.3 496.2,732.0 495.8,734.6 495.5,737.3 497.5,741.3 494.9,743.9 493.1,746.1 490.9,747.9 487.5,748.7 484.2,747.9 481.6,750.6 478.9,753.2 475.5,753.1 472.3,751.9 469.4,751.5 467.2,749.4 464.3,749.2 461.6,749.6 459.0,750.6" fill="none" stroke="#8f8f8f" stroke-width="0.8" stroke-linejoin="round" stroke-linecap="round" />
<polyline points="497.5,741.3 499.9,743.2 502.8,743.9 505.5,747.9 506.1,751.2 505.5,754.6 504.4,757.1 504.2,759.9 501.7,761.2 498.9,761.2 496.2,762.5 493.5,763.9 490.9,767.8 489.6,771.8 485.6,773.2 483.4,775.0 481.6,777.1 480.9,779.8" fill="none" stroke="#8f8f8f" stroke-width="0.8" stroke-linejoin="round" stroke-linecap="round" />
<polyline points="478.9,753.2 480.5,755.7 481.6,758.5 483.8,761.6 486.9,763.9 488.8,765.9 490.9,767.8" fill="none" stroke="#8f8f8f" stroke-width="0.8" stroke-linejoin="round" stroke-linecap="round" />
<polyline points="504.2,759.9 508.2,758.5 510.8,760.0 513.5,761.2 516.1,763.9 516.8,767.4 518.8,770.5 520.7,773.6 521.4,777.1 524.1,781.1 520.1,783.8 517.1,784.3 514.8,786.4 510.8,789.1 509.5,793.1 512.1,797.1" fill="none" stroke="#8f8f8f" stroke-width="0.8" stroke-linejoin="round" stroke-linecap="round" />
<polyline points="516.1,763.9 518.7,765.4 521.4,766.5 524.1,766.0 526.8,765.8 530.1,766.3 533.4,765.8 536.1,767.8 537.8,770.3 538.7,773.2 538.7,777.1 541.4,781.1 542.7,785.1" fill="none" stroke="#8f8f8f" stroke-width="0.8" stroke-linejoin="round" stroke-linecap="round" />
<polyline points="540.0,781.1 543.1,780.6 545.4,778.5 546.7,774.5 549.4,770.5 550.8,767.9 552.0,765.2 554.7,761.2 558.7,758.5" fill="none" stroke="#8f8f8f" stroke-width="0.8" stroke-linejoin="round" stroke-linecap="round" />
<polyline points="517.5,751.9 520.1,751.0 522.8,750.6 525.1,748.9 526.8,746.6 529.4,747.9 532.1,749.2 534.7,750.6 537.8,748.7 541.4,747.9 544.1,747.7 546.7,746.6 549.8,748.0 552.0,750.6" fill="none" stroke="#8f8f8f" stroke-width="0.8" stroke-linejoin="round" stroke-linecap="round" />
<polyline points="525.4,725.3 524.7,727.9 525.4,730.7 524.8,733.3 524.9,736.6 525.4,739.9 525.3,742.8 526.8,745.2 526.8,746.6" fill="none" stroke="#8f8f8f" stroke-width="0.8" stroke-linejoin="round" stroke-linecap="round" />
<polyline points="517.5,751.9 520.1,755.9 520.6,758.6 521.4,761.2 522.8,765.2" fill="none" stroke="#8f8f8f" stroke-width="0.8" stroke-linejoin="round" stroke-linecap="round" />
<polyline points="467.0,781.1 470.4,780.7 473.6,779.8 476.2,779.5 478.9,779.8 481.7,779.4 484.4,779.9 486.9,781.1 489.7,781.0 492.2,782.2 494.9,782.5 498.9,785.1 496.2,789.1 493.5,793.1 494.3,795.7 494.9,798.4" fill="none" stroke="#8f8f8f" stroke-width="0.8" stroke-linejoin="round" stroke-linecap="round" />
<polyline points="557.3,720.0 557.7,722.7 557.6,725.4 558.7,728.0 558.9,731.2 558.2,734.3 557.3,737.3 561.3,739.9 564.0,742.6 566.7,742.2 569.3,741.3 572.0,738.6 573.3,734.6 575.0,734.6" fill="none" stroke="#8f8f8f" stroke-width="0.8" stroke-linejoin="round" stroke-linecap="round" />
<polyline points="523.1,799.8 528.0,801.4 531.5,801.5 534.7,803.1 536.3,805.3 536.3,808.1 533.0,811.4 529.8,812.5 526.4,813.1 523.2,814.6 519.7,814.7 514.8,816.4" fill="none" stroke="#8f8f8f" stroke-width="0.8" stroke-linejoin="round" stroke-linecap="round" />
<polyline points="534.7,803.1 537.5,803.4 540.3,803.8 543.0,804.8 546.4,803.2 549.6,801.4 553.0,800.7 556.3,799.8 559.6,799.3 562.9,799.8 566.2,800.8 569.6,801.4" fill="none" stroke="#8f8f8f" stroke-width="0.8" stroke-linejoin="round" stroke-linecap="round" />
<polyline points="539.7,806.4 538.9,808.9 538.0,811.4 540.2,814.4 541.3,818.0 544.3,820.4 548.0,821.4 551.4,821.8 554.6,823.0 557.4,824.2 559.6,826.3 562.5,827.4 564.6,829.7 567.8,830.7 571.2,831.3" fill="none" stroke="#8f8f8f" stroke-width="0.8" stroke-linejoin="round" stroke-linecap="round" />
<polyline points="554.6,823.0 556.1,819.9 556.3,816.4 559.8,815.2 562.9,813.1 565.3,812.1 567.9,811.4 571.2,813.1" fill="none" stroke="#8f8f8f" stroke-width="0.8" stroke-linejoin="round" stroke-linecap="round" />
<polyline points="559.6,826.3 559.1,829.7 557.9,833.0 557.9,836.5 556.3,839.6 555.2,842.9 554.6,846.3" fill="none" stroke="#8f8f8f" stroke-width="0.8" stroke-linejoin="round" stroke-linecap="round" />
<polyline points="518.1,824.7 515.5,827.1 513.1,829.7 513.4,833.0 513.1,836.3 511.2,838.7 509.8,841.3 506.5,842.2 503.1,843.0 499.8,846.3 498.1,850.0" fill="none" stroke="#8f8f8f" stroke-width="0.8" stroke-linejoin="round" stroke-linecap="round" />
<polyline points="428.3,837.1 428.5,840.0 430.1,842.4 432.6,843.7 435.4,844.2 438.0,845.0 439.8,847.1 442.5,847.7 445.3,846.3 448.4,846.6 451.4,845.9 455.0,846.6 458.5,847.7 461.4,847.0 464.3,846.4 467.3,846.8 470.1,848.7 473.6,849.1 476.2,851.3 479.7,852.2 483.3,853.0 486.2,853.7 489.2,852.4 492.1,853.0 494.7,852.1 497.5,852.3 500.1,851.7 502.8,851.3 505.4,851.9 508.1,852.1 509.4,854.7 511.6,856.6 515.2,856.0 518.7,856.6 521.6,856.0 524.6,855.7 527.6,855.7 530.6,856.3 532.9,858.3 536.3,859.8 540.0,860.1 543.5,856.6" fill="none" stroke="#8f8f8f" stroke-width="0.8" stroke-linejoin="round" stroke-linecap="round" />
<polyline points="435.4,844.2 435.8,847.0 437.2,849.5 439.6,852.4 442.5,854.8 444.9,856.7 445.6,859.9 447.8,861.9 444.9,863.3 442.5,865.4 440.8,868.1 439.0,870.8 442.6,871.2 446.1,870.8 449.0,870.1 451.9,869.1 454.9,869.0 458.0,868.9 460.9,869.8 463.8,870.8 466.2,873.0 467.3,876.1 468.5,878.7 469.1,881.4" fill="none" stroke="#8f8f8f" stroke-width="0.8" stroke-linejoin="round" stroke-linecap="round" />
<polyline points="478.0,853.0 478.8,856.1 480.0,859.1 481.5,861.9 480.0,865.3 479.7,869.0 478.5,871.5 478.0,874.3 475.8,875.8 473.2,876.6 470.9,877.8 469.1,881.4" fill="none" stroke="#8f8f8f" stroke-width="0.8" stroke-linejoin="round" stroke-linecap="round" />
<polyline points="478.0,874.3 479.8,876.9 481.5,879.6 485.2,879.2 488.6,877.8 492.2,877.0 495.7,876.1 498.6,877.5 501.0,879.6" fill="none" stroke="#8f8f8f" stroke-width="0.8" stroke-linejoin="round" stroke-linecap="round" />
<polyline points="501.0,879.6 500.0,877.1 499.4,874.5 497.5,872.5 497.9,868.8 499.2,865.4 502.9,865.2 506.3,863.7 509.9,860.1 511.6,856.6" fill="none" stroke="#8f8f8f" stroke-width="0.8" stroke-linejoin="round" stroke-linecap="round" />
<polyline points="469.1,881.4 471.5,883.3 473.0,885.9 474.4,888.5 473.9,892.2 472.6,895.6 470.5,897.7 468.5,899.8 467.3,902.6 466.0,906.1 465.6,909.7" fill="none" stroke="#8f8f8f" stroke-width="0.8" stroke-linejoin="round" stroke-linecap="round" />
<polyline points="501.0,879.6 502.2,883.1 502.8,886.7 505.1,889.0 508.1,890.2" fill="none" stroke="#8f8f8f" stroke-width="0.8" stroke-linejoin="round" stroke-linecap="round" />
<polyline points="497.5,830.0 498.6,833.5 499.2,837.1 499.6,840.7 499.2,844.2 500.4,847.2 502.8,849.5 505.2,847.4 507.4,845.3 509.6,843.0 511.6,840.6 513.3,837.3 513.4,833.5 511.6,830.0" fill="none" stroke="#8f8f8f" stroke-width="0.8" stroke-linejoin="round" stroke-linecap="round" />
<polyline points="550.6,830.0 551.6,833.5 552.4,837.1 551.0,839.6 550.6,842.4" fill="none" stroke="#8f8f8f" stroke-width="0.8" stroke-linejoin="round" stroke-linecap="round" />
<polyline points="274.5,219.9 277.2,221.0 279.8,222.0 282.8,222.1 285.5,222.9 285.8,226.0 286.7,228.9 287.5,231.9 288.8,234.8 289.9,237.8 290.2,241.0 291.4,243.9 295.4,259.8 296.6,262.7 295.8,265.9 297.5,268.7 297.4,271.8 296.3,274.5 294.6,276.8 292.4,278.7 294.2,281.0 297.1,282.0 299.5,283.5 301.4,285.7 304.0,288.3 305.4,291.7 308.4,292.3 310.7,294.3 311.1,291.5 311.0,288.6 311.2,285.8 310.9,282.9 312.9,279.7 314.2,276.2 316.8,275.0 319.7,275.1 322.4,276.4 325.3,277.4 327.1,279.5 328.6,281.8 332.1,280.8 335.1,278.8 336.3,276.3 337.2,273.8 337.3,271.0 337.6,268.3 339.7,266.2 340.7,263.7 341.6,261.2 341.9,258.5 364.5,258.5" fill="none" stroke="#000" stroke-width="1.05" stroke-linejoin="round" stroke-linecap="round" />
<polyline points="364.5,238.6 364.5,258.5" fill="none" stroke="#000" stroke-width="1.05" stroke-linejoin="round" stroke-linecap="round" />
<polyline points="447.7,217.6 448.7,220.9 448.9,224.2 448.8,227.6 452.3,227.7 455.6,228.3 458.8,229.8 461.0,231.4 463.4,232.5 465.9,233.3 468.2,234.7 470.7,235.5 473.2,236.4 474.3,238.9 475.3,241.4 475.4,244.2 477.7,246.0 478.8,248.9 480.9,250.8 481.9,254.1 482.0,257.5 483.9,260.1 485.5,262.9 487.7,265.4 488.7,268.5 490.4,270.8 491.6,273.2 492.4,276.0 494.2,278.2 495.3,280.7 497.7,282.7 499.2,285.7 502.0,287.4 504.6,286.6 507.3,286.4 509.7,285.1 510.7,282.7 510.6,279.9 512.0,277.6 513.0,275.2 514.7,272.9 516.9,271.0 518.1,268.4 520.4,266.5 521.9,264.1 524.7,262.8 527.2,260.9 530.5,260.5 533.0,258.6 533.9,255.7 536.4,253.7 537.4,250.8 541.8,250.8 542.9,248.6" fill="none" stroke="#000" stroke-width="1.05" stroke-linejoin="round" stroke-linecap="round" />
<polyline points="364.5,258.5 365.3,261.3 365.7,264.2 365.7,267.1 365.4,270.0 367.9,273.0 368.5,275.7 369.9,278.0 371.4,280.5 373.9,282.0 376.1,284.1 376.9,287.0 379.9,287.0 382.9,287.0 384.4,290.0 385.9,293.0 389.9,296.0 392.4,297.4 395.4,297.5 397.9,299.0 400.9,300.5 403.9,302.0 406.6,304.3 408.9,307.0 410.9,308.5 414.9,308.5 417.9,307.0 421.2,305.6" fill="none" stroke="#000" stroke-width="1.05" stroke-linejoin="round" stroke-linecap="round" />
<polyline points="421.2,305.6 414.9,310.0 410.2,323.8 407.9,330.0 401.7,343.3 391.9,365.3 384.6,382.3 377.3,396.9 373.7,399.4" fill="none" stroke="#000" stroke-width="1.05" stroke-linejoin="round" stroke-linecap="round" />
<polyline points="373.7,399.4 373.8,403.1 374.9,406.7 377.5,408.6 379.5,411.1 379.5,412.2" fill="none" stroke="#000" stroke-width="1.05" stroke-linejoin="round" stroke-linecap="round" />
<polyline points="379.5,412.2 377.7,414.7 377.3,417.7 377.4,420.5 377.2,423.3 376.2,426.0 376.2,428.8 375.9,432.0 376.3,435.2 375.2,438.2 375.1,441.4 312.0,441.4 309.7,441.0 306.4,439.9 303.9,441.6 300.9,442.1 297.6,439.9 295.3,435.4 293.4,432.9 290.9,431.0 288.9,428.1 286.5,425.5 283.2,424.8 279.8,424.8 276.5,424.8 272.7,425.4 268.8,425.5 267.4,427.8 265.9,430.0 264.3,432.1 261.0,435.4 259.7,437.8 260.2,440.8 258.8,443.2 254.9,444.2 252.0,444.1 249.5,446.0 246.7,446.3 243.8,446.4 241.6,450.9 238.5,452.9 235.0,454.2 232.0,453.9 229.1,454.9 226.1,455.3 223.3,455.5 220.6,454.7 217.8,455.7 215.0,455.3 212.8,457.1 210.6,458.8 208.1,460.3 206.2,462.4" fill="none" stroke="#000" stroke-width="1.05" stroke-linejoin="round" stroke-linecap="round" />
<polyline points="379.5,412.2 381.0,415.0 383.0,417.5 385.0,419.9 386.1,422.5 387.1,425.1 388.2,427.7 388.1,430.7 389.5,433.2 390.4,435.9 391.3,438.6 392.8,441.0 395.7,442.5 398.1,444.8 400.6,446.8 402.8,449.2 405.5,451.0 408.0,452.9" fill="none" stroke="#000" stroke-width="1.05" stroke-linejoin="round" stroke-linecap="round" />
<polyline points="408.0,452.9 451.8,456.5 488.3,459.0 539.5,462.6" fill="none" stroke="#000" stroke-width="1.05" stroke-linejoin="round" stroke-linecap="round" />
<polyline points="64.4,408.8 133.1,428.7 148.6,437.6 166.3,445.3 184.0,453.1 206.2,462.4" fill="none" stroke="#000" stroke-width="1.05" stroke-linejoin="round" stroke-linecap="round" />
<polyline points="206.2,462.4 206.2,464.2" fill="none" stroke="#000" stroke-width="1.05" stroke-linejoin="round" stroke-linecap="round" />
<polyline points="312.0,441.4 312.0,444.6 310.8,447.6 310.9,450.9 310.2,454.3 310.8,457.6 311.5,460.5 311.8,463.4 311.5,466.4 311.9,485.3 314.9,485.2 317.8,486.0 320.8,485.9 323.7,486.6 326.8,485.7 329.7,486.4 332.7,486.2 335.6,486.7 338.5,487.5 343.0,489.7 342.9,492.3 342.2,494.9 341.8,497.5 342.3,500.8 341.8,504.1 343.5,506.9 345.2,509.8 346.3,513.0 344.5,515.7 343.8,518.7 343.0,521.8 342.0,524.3 339.9,526.0 337.7,530.0 334.9,532.3 333.3,535.5 331.6,538.6 328.9,541.0" fill="none" stroke="#000" stroke-width="1.05" stroke-linejoin="round" stroke-linecap="round" />
<polyline points="386.4,617.5 388.7,619.0 390.4,621.4 392.8,622.8 395.3,624.1 398.4,623.3 401.2,621.8 404.2,620.8 405.3,618.3 407.3,616.5 408.6,614.1 411.1,612.8 413.8,612.3 416.5,611.9 419.1,610.7 421.9,610.8 424.7,611.7 427.3,613.4 430.1,614.4 433.0,615.2 435.9,616.7 438.8,618.4 441.8,619.7 444.6,619.1 447.2,618.0 450.2,618.2 452.9,617.5 455.9,618.1 458.7,619.3 461.7,619.7 464.4,617.9 466.2,615.2 470.6,613.0 470.7,615.7 470.5,618.3 470.2,621.0 470.7,623.6 470.6,626.3 475.0,628.5 479.5,628.5" fill="none" stroke="#000" stroke-width="1.05" stroke-linejoin="round" stroke-linecap="round" />
<polyline points="479.5,628.5 482.0,630.4 483.9,633.0 485.1,635.4 486.3,637.7 488.3,639.6 491.1,641.5 494.1,642.8 497.2,644.0 499.8,645.6 502.6,646.5 505.4,647.6 508.3,648.5 511.3,649.5 514.3,650.4 517.0,652.0 520.0,652.9 524.2,655.5 526.4,659.9 526.1,663.6 524.5,667.0" fill="none" stroke="#000" stroke-width="1.05" stroke-linejoin="round" stroke-linecap="round" />
<polyline points="479.5,628.5 479.4,625.4 480.0,622.3 479.8,619.2 479.7,616.1 479.5,613.0 480.4,610.0 482.1,607.3 484.2,605.0 486.5,602.8 488.8,600.7 490.1,597.4 491.0,594.0 492.3,591.7 494.2,589.8 495.4,587.4 498.7,586.6 501.1,584.0 504.3,583.0 506.0,580.9 507.6,578.8 508.7,576.3 510.1,574.0 511.7,571.9 513.2,569.7 516.1,568.9 518.0,566.1 520.9,565.2 522.6,561.9 524.2,558.6 524.5,555.7 526.3,553.2 527.4,550.5 527.6,547.5 528.2,544.9 528.1,542.2 529.4,539.8 529.9,537.2 530.7,534.7 530.9,532.0 531.7,529.1 532.6,526.2 533.1,523.2 533.1,520.1 532.1,517.3 531.5,514.3 531.0,496.6 531.2,494.0 532.4,491.5 531.6,488.8 532.7,486.3 532.6,483.7 533.1,481.1 534.7,477.6 535.4,473.8 535.9,470.8 538.2,468.5 538.3,465.3 539.5,462.6" fill="none" stroke="#000" stroke-width="1.05" stroke-linejoin="round" stroke-linecap="round" />
<polyline points="539.5,462.6 540.1,459.1 542.1,456.1 543.2,453.0 544.9,450.2 546.5,447.3 547.3,444.6 549.3,442.8 550.9,440.6 552.3,438.3 554.2,436.4 555.4,434.0 556.7,430.9 558.0,427.9 559.8,425.1 558.8,421.9 558.7,418.5 559.5,415.6 560.1,412.7 559.8,409.6 560.9,407.0 561.6,404.2 563.1,401.8 565.9,401.1 568.2,399.4 570.9,398.5 572.8,396.0 575.3,394.1 576.4,390.5 578.6,387.5 579.4,384.6 579.8,381.6 579.7,378.6 578.2,375.7 576.4,373.1 573.6,372.0 570.9,370.8 573.9,369.1 576.5,366.8 579.7,365.3 593.0,356.4 595.1,354.6 595.8,351.9 597.6,349.9 599.4,347.9 600.8,345.7 601.9,343.2 603.5,340.4 604.9,337.5 606.9,334.9 608.5,332.1 615.2,316.6 620.7,301.1 620.4,298.3 621.8,295.6 621.3,292.8 621.8,290.0 623.2,286.6" fill="none" stroke="#000" stroke-width="1.05" stroke-linejoin="round" stroke-linecap="round" />
<polyline points="573.1,370.8 576.2,371.1 579.3,370.0 582.4,369.9 585.5,369.5 588.6,369.7 590.9,371.9 593.4,373.8 595.2,376.4 596.2,379.0 595.3,381.7 596.2,384.4 596.5,387.0 596.3,389.7 596.4,392.4 595.9,395.0 595.8,397.7 595.2,400.3 595.2,403.0 593.5,405.1 592.4,407.5 590.8,409.6 592.5,412.3 595.2,414.0 596.4,416.6 599.1,418.0 599.8,421.0 601.9,422.9 605.0,424.6 608.5,425.1 611.7,426.6 615.2,427.3 614.0,430.5 611.8,433.2 609.5,435.4 608.0,438.0 606.3,440.6 606.7,443.4 605.5,446.0 607.5,448.7 608.0,452.0 611.1,455.0 612.0,457.7 613.8,459.8 615.5,462.0 617.3,464.0 619.0,466.1 619.9,468.7 623.0,468.9 625.9,469.8 628.8,470.9" fill="none" stroke="#000" stroke-width="1.05" stroke-linejoin="round" stroke-linecap="round" />
<polyline points="709.6,319.8 707.8,321.8 707.0,324.4 705.9,326.8 704.0,328.7 700.9,329.8 698.3,331.6 696.0,334.1 693.0,335.3 691.5,337.8 691.0,340.6 689.9,343.1 689.1,345.9 688.5,348.6 687.9,351.7 688.0,354.8 688.0,357.9 689.0,361.0 688.5,364.1 685.2,384.0 686.0,387.1 687.4,390.0 688.5,392.9 686.7,394.9 685.6,397.4 684.1,399.5 681.3,399.2 678.5,400.0 675.8,400.7 673.0,400.6 670.2,401.8 667.3,402.7 664.2,402.9 662.0,404.7 660.2,407.0 657.6,408.3 655.3,410.0 652.8,411.6 649.9,412.1 647.1,413.1 644.4,414.0 641.7,415.1 639.1,416.5 637.8,419.4 635.1,420.7 633.8,423.5 633.7,426.6 632.9,429.5 631.7,432.4 630.5,435.3 629.6,438.4 627.4,441.5 626.2,445.0 626.8,447.9 627.1,450.9 627.4,453.9 627.0,457.0 628.8,459.8 628.5,462.8 628.4,465.5 628.5,468.2 628.8,470.9" fill="none" stroke="#000" stroke-width="1.05" stroke-linejoin="round" stroke-linecap="round" />
<polyline points="628.8,470.9 626.9,473.7 624.0,475.5 621.6,478.2 619.5,481.1 617.9,483.2 616.2,485.2 615.6,487.9 614.0,490.0 614.8,493.3 617.0,495.9 618.5,498.8 618.8,501.6 618.4,504.5 620.0,507.1 619.5,510.0 619.4,513.1 619.7,516.2 620.4,519.2 619.7,522.4 620.5,525.4 621.1,528.3 621.3,531.2 621.6,534.1 622.0,537.0 622.0,539.7 623.3,542.1 623.3,544.8 623.7,547.4 624.0,550.0 625.0,568.0" fill="none" stroke="#000" stroke-width="1.05" stroke-linejoin="round" stroke-linecap="round" />
<polyline points="533.1,523.2 534.8,519.9 536.4,516.5 539.7,515.4 538.8,517.9 539.3,520.6 538.6,523.2 541.0,524.8 543.9,525.3 546.4,526.5 549.2,527.6 552.1,528.4 554.7,529.8 557.5,530.9 559.6,529.1 560.6,526.6 561.9,524.3 565.3,524.2 568.5,523.2 570.2,525.2 571.7,527.4 573.0,529.8 575.9,529.5 578.9,529.9 581.8,529.8 584.7,530.7 587.6,531.7 590.7,532.0 592.9,529.8 595.7,528.7 598.8,529.4 601.7,528.7 604.8,528.6 607.7,527.3 610.6,526.5 613.8,525.4 617.2,525.4 620.5,525.4" fill="none" stroke="#000" stroke-width="1.05" stroke-linejoin="round" stroke-linecap="round" />
<polyline points="625.0,568.0 621.8,566.7 619.5,564.1 615.0,561.9 613.5,564.1 610.9,565.2 609.5,567.5 608.2,570.7 607.3,574.1 607.3,576.9 607.4,579.7 607.5,582.5 608.4,585.2 605.6,585.3 602.8,585.6 600.1,585.8 597.3,586.3 597.7,589.7 598.6,592.9 599.5,596.2 599.5,599.0 600.5,601.7 600.1,604.6 600.6,607.3 599.6,610.7 598.4,614.0 598.3,617.0 599.8,619.8 599.5,622.8 599.5,626.2 598.4,629.5 596.2,631.6 593.0,632.1 590.7,633.9 587.7,633.6 584.7,634.4 581.8,635.0 579.0,634.9 576.3,633.9 573.5,633.7 570.7,633.9 567.9,634.4 565.3,635.4 562.5,635.9 559.7,636.1 556.4,637.3 553.0,638.3 550.3,639.1 547.5,639.5 544.6,639.7 541.9,640.5 538.7,641.4 536.4,644.1 533.1,645.0 531.5,647.1 530.8,649.8 528.7,651.6 528.5,654.5 526.7,657.0 526.4,659.9" fill="none" stroke="#000" stroke-width="1.05" stroke-linejoin="round" stroke-linecap="round" />
<polyline points="580.0,577.2 597.5,577.2 598.0,588.5 579.6,588.5 580.0,577.2" fill="none" stroke="#000" stroke-width="1.05" stroke-linejoin="round" stroke-linecap="round" />
<polyline points="628.8,470.9 633.2,470.9 633.8,473.9 634.0,476.9 635.4,479.7 638.4,481.1 641.7,482.0 644.3,484.2 646.9,483.1 649.7,482.5 652.5,482.2 655.2,481.3 657.6,479.7 660.9,478.6 664.2,477.5 666.4,475.9 668.3,474.0 670.9,473.1 671.4,470.3 671.0,467.5 671.2,464.7 672.0,462.0 670.7,458.8 670.9,455.4 673.8,453.0 677.5,452.0 680.1,453.7 683.3,454.3 685.5,456.9 688.6,457.6 691.1,455.9 694.4,455.9 696.7,453.7 699.7,453.2 702.2,451.6 705.3,451.8 707.8,450.3 710.7,449.8 713.2,447.9 714.8,445.0 716.9,442.7 719.6,441.0 722.1,440.0 724.2,438.5 726.6,437.3 728.5,435.4 730.3,433.4 730.9,430.6 732.9,428.8 733.1,426.0 733.2,423.2 732.8,420.5 732.9,417.7 735.6,416.0 737.3,413.3 736.7,408.5 735.9,404.8 735.8,401.0 735.0,397.8 733.3,395.2 730.8,392.9 730.1,389.7 728.2,372.7 726.7,370.4 726.9,367.6 726.3,365.0 724.4,362.8 724.0,360.2 723.5,357.6 719.8,335.1 719.9,332.0 718.8,329.0 719.6,325.8 718.8,322.8" fill="none" stroke="#000" stroke-width="1.05" stroke-linejoin="round" stroke-linecap="round" />
<polyline points="801.1,360.3 798.5,361.3 795.8,362.3 795.1,365.0 793.2,367.0 792.5,369.7 791.3,372.2 790.5,374.9 788.4,377.6 785.9,380.1 783.9,382.9 781.6,386.0 778.5,388.2 776.5,391.5" fill="none" stroke="#000" stroke-width="1.05" stroke-linejoin="round" stroke-linecap="round" />
<polyline points="776.5,391.5 778.5,393.5 781.2,394.0 783.9,393.5 786.9,392.0 790.2,391.1 793.2,389.6 795.9,388.9 798.4,387.7 801.1,386.9 803.1,389.6 799.8,393.5 798.5,397.5 802.5,400.2 805.8,400.7 809.1,401.5 811.6,402.6 814.4,402.8 817.1,398.9 818.4,396.4 818.4,393.5 821.1,392.2 824.3,393.3 827.7,393.5 830.3,394.1 833.1,394.1 835.7,394.9 838.7,394.3 841.6,396.0 844.6,395.7 847.6,395.5" fill="none" stroke="#000" stroke-width="1.05" stroke-linejoin="round" stroke-linecap="round" />
<polyline points="776.5,391.5 774.6,394.9 773.4,397.9 773.5,401.2 772.6,404.2 773.3,407.3 773.6,410.6 775.2,413.5 773.7,416.6 773.2,420.1 769.9,420.6 766.6,421.4 763.1,419.7 759.9,417.5 757.6,415.8 755.9,413.4 753.3,412.1 750.0,413.0 746.6,413.5 743.5,413.1 740.4,413.2 737.3,413.3 733.2,416.0 732.8,419.2 733.2,422.3 733.9,425.4 732.3,428.4 730.8,431.5 728.2,433.9 726.6,436.0 724.6,437.7 722.6,439.5" fill="none" stroke="#000" stroke-width="1.05" stroke-linejoin="round" stroke-linecap="round" />
<polyline points="773.2,420.1 777.2,420.1 779.8,420.9 782.5,421.4 786.1,419.9 789.2,417.5 792.8,416.4 795.8,414.1 798.9,412.4 802.5,412.1 806.4,414.8 804.6,417.2 803.8,420.1 801.1,424.1 805.1,426.8 809.1,429.4 812.0,428.0 814.8,426.4 817.1,424.1 819.8,423.3 822.2,422.0 825.0,421.4 827.8,421.5 830.4,421.0 833.0,420.1 835.8,419.5 838.5,419.0 841.0,417.5 844.3,416.8 847.6,415.9 851.0,416.1" fill="none" stroke="#000" stroke-width="1.05" stroke-linejoin="round" stroke-linecap="round" />
<polyline points="722.9,439.9 725.5,441.4 727.9,443.2 730.7,444.3 731.9,447.5 731.8,451.1 732.9,454.3 735.7,452.7 737.4,449.8 740.0,448.0 742.8,445.9 745.5,443.8 748.0,441.4 750.6,440.3 753.1,439.0 755.8,438.0 758.6,437.4 761.1,438.6 763.8,439.6 766.6,440.0 769.7,441.3 773.1,442.1 775.9,444.0 777.8,446.6 780.0,448.8 782.5,450.7 784.9,448.6 787.9,447.3 790.5,445.4 793.0,446.9 795.6,447.7 798.5,448.0 801.1,448.9 803.8,449.8 806.4,450.7 809.0,451.3 811.8,451.1 814.4,452.0 817.7,450.9 821.1,450.7 823.4,447.7 826.4,445.4 829.8,444.3 833.0,442.7 835.7,442.7 838.3,443.2 841.0,443.1 843.7,443.4" fill="none" stroke="#000" stroke-width="1.05" stroke-linejoin="round" stroke-linecap="round" />
<polyline points="782.5,450.7 784.5,454.0 786.5,457.3 789.8,458.1 793.0,459.3 795.8,461.3 798.1,463.3 801.2,463.8 803.8,465.3 806.7,466.1 809.0,468.2 811.8,469.3 815.7,471.9" fill="none" stroke="#000" stroke-width="1.05" stroke-linejoin="round" stroke-linecap="round" />
<polyline points="786.5,457.3 786.5,460.0 787.9,462.5 787.8,465.3 788.3,468.6 789.2,471.9 790.5,475.3 788.4,477.7 786.0,479.7 783.8,481.9 785.6,485.0 786.0,488.6 788.8,490.3 789.9,493.6 792.7,495.2 797.1,497.5" fill="none" stroke="#000" stroke-width="1.05" stroke-linejoin="round" stroke-linecap="round" />
<polyline points="625.0,568.0 627.8,567.5 630.2,565.9 632.8,565.0 635.4,563.9 637.9,562.2 640.9,561.7 643.3,559.8 646.4,559.3 648.7,557.3 651.2,556.3 653.5,554.9 655.5,553.1 658.2,553.8 660.9,552.6 663.7,552.1 666.4,552.8 668.0,556.0 668.7,559.5 671.4,559.4 674.1,559.7 676.7,560.1 679.2,561.4 681.9,561.7 697.5,568.3 700.1,569.4 703.0,569.3 705.6,570.7 708.5,570.5 710.3,572.7 713.4,573.3 715.1,575.7 717.4,577.2 719.2,579.9 720.7,582.7 723.7,581.8 726.9,582.9 729.8,581.5 732.9,581.6 735.8,582.4 738.7,583.3 741.7,583.8 744.0,586.6 747.3,588.3 747.0,591.1 747.3,594.0 745.6,596.3 743.8,598.5 741.9,600.7 739.7,605.1 738.4,607.6 736.3,609.5 735.0,612.7 735.2,616.2 736.9,619.0 740.0,620.3 741.9,622.8 743.0,626.1 746.0,627.5 748.2,629.7 750.6,631.8 753.0,633.9" fill="none" stroke="#000" stroke-width="1.05" stroke-linejoin="round" stroke-linecap="round" />
<polyline points="744.5,626.4 741.8,625.5 739.0,625.2 736.2,625.6 731.2,626.4 728.4,627.7 726.2,629.8 724.6,634.7 726.1,637.0 726.2,639.7 724.4,642.0 723.5,644.7 724.7,647.4 726.5,649.7 726.2,652.8 726.3,656.0 723.9,659.2 723.0,663.0 721.9,665.7 720.1,667.9 718.0,669.9 714.5,671.2 711.3,673.2 710.1,676.4 710.0,679.8 709.7,683.2 710.8,686.4 711.3,689.8 714.6,690.8 718.0,691.5 721.0,692.5 724.2,692.0 727.1,693.2" fill="none" stroke="#000" stroke-width="1.05" stroke-linejoin="round" stroke-linecap="round" />
<polyline points="709.7,683.2 707.4,685.1 704.7,686.5 704.2,689.4 703.6,692.2 702.2,694.8 701.4,698.6 700.5,702.3 698.2,703.6 695.7,704.4 693.1,704.8 690.5,706.4 687.5,706.7 684.8,708.1 682.0,709.3 678.9,708.6 676.1,709.9 673.1,709.8 669.9,711.1 666.4,710.2 663.2,711.4 660.4,712.7 657.2,712.4 654.3,713.4 651.5,714.8 648.4,715.0 645.9,717.0 642.8,717.4 639.9,718.1 637.3,719.6 634.2,719.1 631.6,720.6" fill="none" stroke="#000" stroke-width="1.05" stroke-linejoin="round" stroke-linecap="round" />
<polyline points="651.5,716.4 653.2,719.7 656.4,721.1 659.8,721.4 661.5,724.7 658.2,728.0 656.0,732.0" fill="none" stroke="#000" stroke-width="1.05" stroke-linejoin="round" stroke-linecap="round" />
<polyline points="631.6,720.6 629.9,724.7 626.5,725.4 623.3,726.4 620.8,725.6 618.3,724.7 617.2,722.3 616.6,719.7 615.4,716.2 613.3,713.1 613.3,709.8 613.3,706.4 614.2,701.5 613.1,698.9 611.7,696.5 610.0,695.6 606.6,695.1 603.5,693.6 602.6,690.6 601.9,687.5 602.1,684.3 602.0,681.4 601.2,678.6 600.1,675.9 600.2,673.0 598.0,670.4 595.0,668.8 592.3,669.2 589.7,668.9 587.0,669.4 584.4,669.2 581.7,668.8 579.0,668.7 576.5,669.9 573.9,670.6 571.1,670.6 568.5,671.0 566.2,675.4 563.8,674.0 561.8,672.1 560.1,669.4 557.4,667.7 554.7,668.1 552.1,666.5 549.4,667.7 546.8,666.2 544.1,666.6 541.2,665.6 538.1,665.6 535.2,664.4 531.9,665.0 528.6,665.5 524.5,667.0" fill="none" stroke="#000" stroke-width="1.05" stroke-linejoin="round" stroke-linecap="round" />
<polyline points="524.5,667.0 523.0,669.3 521.3,671.4 519.6,673.6 517.5,675.4 515.8,678.1 513.2,680.1 512.0,683.2 510.2,685.5 509.2,688.1 508.7,690.9 507.7,693.5 506.0,695.6 504.2,697.6 502.2,700.2 501.9,703.8 499.8,706.4 497.3,708.4 495.6,711.1 492.6,712.5 490.9,715.3 488.3,717.5 484.8,717.8 482.1,719.7" fill="none" stroke="#000" stroke-width="1.05" stroke-linejoin="round" stroke-linecap="round" />
<polyline points="482.1,719.7 479.2,721.4 476.4,723.2 473.2,724.2 472.4,727.5 469.8,729.8 468.8,733.0 467.3,735.2 466.3,737.7 464.4,739.7 463.3,743.0 462.1,746.3 459.4,747.5 457.5,749.8" fill="none" stroke="#000" stroke-width="1.05" stroke-linejoin="round" stroke-linecap="round" />
<polyline points="482.1,719.7 484.8,719.2 487.4,719.8 490.1,719.1 492.7,719.2 495.4,719.7 498.1,720.1 500.9,720.0 503.6,719.2 506.4,719.7 509.3,719.6 512.1,720.2 514.7,721.6 517.5,722.0 520.3,723.1 523.2,723.9 526.0,724.9 528.6,726.4 531.7,726.8 534.8,727.2 537.9,727.6 541.0,727.4 544.1,727.5 546.6,729.0 548.9,730.6 550.7,733.0 551.1,736.1 552.4,738.9 553.0,741.9 553.8,744.8 555.9,747.2 555.8,750.4 557.4,753.0 558.4,755.9 558.3,759.0 559.6,761.8 562.5,762.7 565.5,762.5 568.5,762.9 571.1,763.8 572.5,766.4 575.1,767.4 577.4,770.0 579.2,773.0 581.9,775.2" fill="none" stroke="#000" stroke-width="1.05" stroke-linejoin="round" stroke-linecap="round" />
<polyline points="468.5,793.7 484.3,797.3 487.1,797.2 489.9,797.4 492.6,798.7 495.4,798.4 498.2,798.7 501.0,799.0 503.7,799.8 506.4,800.6 509.2,801.0 512.0,800.4 514.7,801.5 517.5,801.7 519.7,799.4 522.0,797.3 524.8,795.9 527.2,794.0 530.4,793.4 533.0,791.7 535.8,791.9 538.6,791.7 541.3,790.6 544.1,790.6 546.8,791.5 549.7,791.5 552.3,792.6 555.2,792.8 558.0,791.4 561.2,791.9 564.0,790.6 567.3,790.6 570.3,789.3 573.4,788.6" fill="none" stroke="#000" stroke-width="1.05" stroke-linejoin="round" stroke-linecap="round" />
<polyline points="468.5,811.6 471.3,811.9 474.2,812.2 477.0,812.6 479.9,812.8 482.7,812.5 485.1,814.4 488.0,813.7 490.6,814.1 493.2,815.0 495.9,814.8 498.5,815.5 501.0,816.8 503.9,816.0 506.4,817.2 509.5,818.0 511.8,820.2 514.9,820.9 517.5,822.7 520.2,824.0 521.9,826.6 524.2,828.3 526.3,830.6 528.6,832.7 530.8,834.9 532.8,836.7 535.2,838.0 538.1,837.9 540.7,839.7 543.6,839.7 547.6,841.7 546.3,844.6 545.6,847.7 545.8,851.3 544.6,854.7 542.6,856.7 546.0,855.6 549.6,855.7" fill="none" stroke="#000" stroke-width="1.05" stroke-linejoin="round" stroke-linecap="round" />
<polyline points="501.0,908.0 499.2,904.4 501.0,901.7 502.8,899.1 505.2,897.9 507.4,896.5 509.9,895.6 512.1,892.5 515.2,890.2 515.9,887.5 516.9,884.9 517.2,881.2 518.7,877.8 518.8,874.3 518.7,870.8 522.3,874.3 525.8,877.8 528.6,877.5 531.1,876.1 532.9,874.3 533.5,877.8 532.9,881.4 530.2,884.0 527.6,886.7 526.0,888.9 525.7,891.7 524.0,893.8 521.8,895.9 519.9,898.1 518.7,900.9 516.4,902.2 514.0,903.3 511.6,904.4 509.0,905.1 506.8,906.8 504.5,908.0 501.0,911.5" fill="none" stroke="#000" stroke-width="1.05" stroke-linejoin="round" stroke-linecap="round" />
<polyline points="488.6,913.3 491.2,915.0 491.8,918.5 492.1,922.1 489.8,924.4 488.6,927.4 485.8,927.9 483.3,929.2" fill="none" stroke="#000" stroke-width="1.05" stroke-linejoin="round" stroke-linecap="round" />
<polygon points="143.6,229.9 145.9,228.9 177.8,228.9 175.8,225.9 177.8,223.9 180.4,224.7 182.8,225.9 185.1,223.6 187.8,221.9 190.2,220.2 192.8,218.9 194.8,220.9 196.9,223.8 198.8,226.9 198.4,230.0 198.9,232.9 199.0,235.9 199.8,238.9 202.1,240.3 204.7,240.9 206.9,243.2 209.7,244.8 213.0,246.3 215.7,248.8 218.4,248.2 221.2,248.1 223.7,246.8 226.4,246.4 228.7,244.8 231.7,247.8 230.7,250.8 233.6,248.8 235.3,245.7 237.6,242.9 239.9,241.5 242.4,240.4 244.6,238.9 248.0,237.2 251.6,235.9 255.6,233.9 258.1,231.9 260.6,229.9 261.6,224.9 264.0,223.3 266.8,222.8 269.5,221.9 273.5,220.9 274.5,219.9 273.5,215.9 270.2,215.3 266.7,215.3 263.5,214.0 262.1,211.2 261.6,208.0 260.9,205.0 259.3,202.5 257.6,200.0 257.7,197.0 256.6,194.3 255.1,191.4 253.7,188.5 252.1,185.7 250.0,183.2 247.8,180.1 244.9,177.7 247.8,178.8 250.0,181.0 253.3,181.9 256.7,182.1 259.9,183.2 262.1,185.4 265.5,184.5 268.8,183.2 272.2,183.4 275.4,184.3 277.2,186.2 278.7,188.5 281.0,189.9 283.0,187.8 284.4,185.2 286.5,183.2 289.1,182.1 291.7,180.9 294.3,179.9 298.2,180.0 302.0,178.8 304.6,177.2 307.4,175.8 310.4,174.9 313.1,173.3 315.7,171.9 318.7,171.7 321.6,171.4 324.2,169.9 325.7,167.7 326.9,165.3 328.6,163.3 329.7,158.4 332.4,158.4 335.2,158.4 338.0,158.7 340.8,158.9 342.3,163.3 342.3,167.2 341.4,171.0 345.0,172.2 348.1,174.4 348.8,177.7 348.5,181.0 351.8,184.3 350.4,187.2 348.5,189.9 345.9,194.3 345.3,197.1 344.7,199.9 344.1,202.7 343.0,205.4 343.8,208.3 343.4,211.3 343.7,214.2 344.5,217.2 346.0,219.8 347.2,222.6 348.5,225.3 350.6,228.2 353.0,230.8 356.0,232.7 358.5,235.3 361.4,237.2 364.5,238.6 367.6,238.0 370.7,237.5 372.9,235.3 375.1,233.1 378.5,232.1 381.7,230.8 384.3,229.9 386.9,228.8 389.6,227.8 392.2,226.9 395.0,226.4 397.3,224.8 399.5,223.1 402.2,223.4 404.8,224.1 407.6,223.7 410.2,224.7 412.8,225.3 415.6,225.8 418.3,224.9 421.1,225.4 423.8,225.3 423.4,222.3 422.8,219.4 422.7,216.4 426.0,213.1 429.2,214.3 432.7,214.2 436.3,213.4 440.0,213.1 444.4,212.0 445.7,215.0 447.7,217.6 450.7,217.7 453.7,218.2 456.5,219.4 459.9,219.1 463.1,217.8 466.5,217.1 469.7,217.1 472.6,218.1 475.7,218.7 478.7,219.4 481.4,219.9 484.2,219.8 486.1,217.5 488.4,215.8 490.9,214.3 492.8,211.9 493.8,209.1 494.4,206.1 496.0,203.6 497.5,201.0 508.6,183.3 509.9,180.2 511.8,177.5 513.0,174.4 515.2,176.2 517.5,177.7 518.5,180.2 519.9,182.4 521.6,184.4 523.0,186.6 526.3,204.3 526.9,207.1 527.7,209.7 528.6,212.4 529.9,214.9 530.7,217.6 535.2,219.8 536.7,222.6 538.6,225.2 540.7,227.6 543.8,229.8 547.4,230.9 547.9,233.7 546.9,236.4 548.1,239.2 547.4,241.9 545.6,243.9 544.3,246.3 542.9,248.6 543.5,251.9 544.0,255.2 547.1,257.0 550.7,257.5 552.8,259.4 555.2,261.1 557.3,263.0 559.8,264.5 562.4,265.7 565.2,266.4 568.0,267.2 570.6,268.5 574.0,269.5 577.3,270.7 579.5,275.2 582.5,275.4 585.5,276.0 588.6,275.9 591.4,276.2 594.0,276.9 596.7,277.7 599.4,278.1 602.1,278.8 604.9,279.4 607.5,280.8 610.3,281.7 613.2,282.1 615.7,283.2 618.2,284.3 620.9,285.1 623.2,286.6 625.8,287.1 628.5,287.6 630.9,288.8 633.4,291.1 636.0,293.3 638.7,295.4 640.9,293.2 643.4,291.1 646.4,289.9 648.2,292.5 650.9,294.3 652.6,297.2 653.4,300.4 655.3,303.2 655.7,305.8 656.3,308.4 658.2,310.6 658.6,313.2 663.1,314.3 666.4,313.2 668.9,311.6 671.8,310.7 674.1,308.7 677.7,309.1 680.8,310.9 683.5,311.7 685.6,313.7 688.1,314.9 690.3,316.8 693.0,317.6 695.7,318.3 698.5,318.2 701.2,319.1 704.0,318.7 706.8,319.3 709.6,319.8 712.9,322.0 716.4,322.3 719.9,322.6 737.1,320.6 740.2,321.1 743.3,320.9 746.4,321.3 749.2,322.4 751.7,324.0 754.4,325.2 756.9,326.5 758.9,328.7 761.5,329.9 764.0,331.2 766.4,332.6 769.3,333.6 771.8,335.4 774.4,336.9 777.0,338.5 778.9,340.6 780.9,342.6 782.6,344.9 785.0,346.5 786.6,349.1 789.1,350.7 791.2,352.8 793.2,355.0 795.7,356.9 798.1,359.1 801.1,360.3 803.9,361.3 806.4,362.7 808.9,364.2 811.8,365.0 814.5,364.9 817.1,365.4 819.7,366.6 822.4,366.3 825.0,366.9 827.7,366.7 830.4,366.3 833.0,367.0 836.2,368.8 839.7,369.6 841.1,372.4 843.0,374.9 843.2,377.7 843.7,380.4 845.0,382.9 845.1,385.7 846.4,388.2 847.0,390.9 848.1,393.4 848.6,396.2 849.0,398.9 849.7,402.0 850.3,405.1 851.0,408.2 851.6,410.8 851.8,413.4 851.6,416.1 851.2,418.8 851.1,421.4 851.0,424.1 850.5,427.2 849.0,430.2 849.0,433.4 847.5,436.0 846.9,439.0 845.0,441.4 843.4,443.8 841.3,445.8 840.2,448.5 838.3,450.7 836.3,453.2 835.3,456.4 833.0,458.7 831.0,461.5 828.2,463.7 826.4,466.6 824.1,468.7 821.8,470.9 819.7,473.3 816.7,476.2 814.5,478.4 811.7,480.0 809.2,481.9 807.6,484.6 806.3,487.5 804.5,490.0 801.7,492.1 800.1,494.2 798.7,496.5 797.3,498.8 795.5,501.3 795.0,504.3 794.0,507.2 792.8,509.9 791.0,512.8 788.8,515.3 786.2,517.6 784.0,519.3 782.7,521.9 780.7,523.8 778.4,525.4 776.1,527.2 773.4,528.1 770.8,529.1 768.5,530.9 768.2,534.2 767.7,537.5 768.0,540.9 768.3,543.6 768.1,546.1 766.7,548.6 767.0,551.3 766.2,553.8 766.2,556.4 766.6,559.5 767.1,562.6 767.2,565.7 767.7,568.8 767.4,571.9 767.1,574.6 767.7,577.2 768.3,579.9 768.3,582.5 768.5,585.2 765.1,602.9 762.9,622.8 761.2,624.8 759.7,627.0 757.4,628.4 755.5,630.3 754.4,632.7 753.0,635.0 752.0,640.0 751.5,642.7 752.4,645.3 752.4,648.0 753.1,650.6 752.9,653.3 751.8,656.4 749.1,658.5 747.9,661.6 746.2,663.9 745.6,666.7 743.7,668.9 742.9,671.6 740.9,673.4 739.8,675.9 737.8,677.7 736.2,679.9 734.0,681.7 732.9,684.3 731.3,686.5 729.0,689.6 727.9,693.2 726.3,698.1 726.9,701.4 727.0,704.8 727.1,708.1 724.5,708.9 722.3,710.7 719.6,711.4 716.4,713.3 713.0,714.8 710.6,716.0 708.8,718.1 708.0,723.1 706.3,727.2 703.0,727.2 699.7,726.8 696.4,727.2 693.5,727.4 690.6,727.3 687.7,726.8 684.8,726.4 681.4,724.7 679.8,728.0 676.5,728.9 673.1,728.9 669.8,728.2 666.5,728.9 663.3,730.4 659.8,731.4 656.5,732.1 653.2,733.0 649.9,735.5 648.0,737.4 645.4,738.3 643.2,739.7 640.8,741.5 638.2,743.0 634.9,744.0 631.6,744.7 628.9,745.8 626.2,746.3 623.3,746.3 619.7,747.5 616.6,749.6 613.4,751.5 610.0,753.0 608.7,755.7 606.5,757.5 604.1,759.1 601.6,760.5 599.0,761.8 596.8,764.0 594.5,766.2 591.5,767.4 589.4,769.7 586.8,771.5 584.6,773.7 581.9,775.2 579.3,778.1 577.1,781.3 576.4,784.0 574.9,786.3 573.4,788.6 572.3,792.2 572.2,795.9 573.0,798.9 572.9,802.0 572.6,805.1 573.4,808.1 573.3,811.2 574.5,814.2 574.5,817.2 574.6,820.3 573.7,823.3 573.6,826.4 572.2,829.3 572.2,832.4 571.8,835.0 569.9,837.1 569.7,839.8 567.3,842.2 564.9,844.6 560.0,846.0 557.2,848.1 554.1,849.5 552.4,851.9 551.0,854.5 548.8,856.6 547.2,859.1 546.4,862.0 544.3,864.3 543.5,867.2 542.1,869.8 541.0,872.6 539.8,875.3 538.2,877.8 536.3,880.4 535.0,883.4 532.4,885.5 531.1,888.5 529.3,890.7 526.8,892.0 524.7,893.7 522.8,895.8 520.5,897.3 517.6,898.8 515.3,901.0 512.4,902.4 509.9,904.4 507.5,906.7 505.4,909.3 502.8,911.5 501.1,914.2 499.2,916.8 498.4,919.7 496.6,922.1 495.7,925.8 493.9,929.2 492.3,931.3 491.8,934.0 490.4,936.3 487.9,937.9 486.0,940.3 483.3,941.6 480.9,942.7 478.7,944.2 476.2,945.2 473.5,943.4 474.0,939.9 474.4,936.3 478.0,932.8 479.0,930.0 480.6,927.4 483.3,923.0 479.7,923.2 476.2,922.1 473.4,920.6 470.9,918.6 468.0,916.2 465.6,913.3 462.5,911.0 460.2,908.0 458.1,906.0 455.3,904.6 453.2,902.6 450.2,901.3 447.5,899.2 444.3,898.2 442.1,896.4 439.8,894.8 437.2,893.8 434.9,890.8 431.9,888.5 429.4,889.9 426.7,890.5 423.9,891.1 421.9,888.8 421.2,885.7 419.5,883.2 417.0,880.3 414.2,877.8 411.7,876.2 409.4,874.4 407.1,872.5 403.6,872.3 400.0,872.5 396.7,873.7 393.7,875.4 390.8,873.4 392.9,871.1 395.7,869.8 397.7,867.4 400.0,865.4 401.6,863.1 403.7,861.3 405.0,858.8 406.7,856.6 408.9,854.8 411.5,853.0 413.5,850.6 415.7,848.3 417.7,845.9 419.4,843.6 421.5,841.9 423.8,840.3 425.9,838.5 428.3,837.1 430.5,834.5 432.9,832.2 435.4,830.0 437.3,827.6 440.0,826.3 442.4,824.4 445.0,823.0 447.6,821.5 450.0,819.7 452.0,817.9 454.7,817.3 456.6,815.5 460.0,814.4 463.3,813.1 466.3,812.5 469.1,811.4 468.9,808.2 469.3,804.9 469.5,801.7 469.4,799.0 468.6,796.4 468.5,793.7 467.5,790.4 468.3,787.0 467.5,783.7 464.7,781.9 461.5,780.7 458.8,781.0 456.2,781.3 453.5,780.7 452.5,777.7 454.0,774.5 454.6,771.1 455.5,767.8 455.6,765.0 456.5,762.4 457.5,759.8 457.0,756.5 457.9,753.1 457.5,749.8 455.0,748.8 453.2,746.6 450.6,745.8 447.0,746.5 443.6,747.8 440.9,748.4 438.3,747.5 435.6,747.8 435.1,745.2 435.3,742.5 434.6,739.9 434.3,737.3 432.8,735.0 431.8,732.6 431.6,729.9 431.9,727.2 430.8,724.6 430.6,721.9 429.7,718.2 427.6,715.0 425.0,714.4 422.4,714.0 419.7,714.0 415.7,711.0 412.7,712.0 409.6,712.1 406.7,712.9 403.7,713.6 400.7,713.3 397.7,713.4 394.8,712.1 391.8,712.0 388.4,711.3 385.0,710.5 384.2,708.3 384.5,705.5 385.3,702.8 384.5,699.9 385.3,697.2 385.4,694.5 384.2,691.9 384.9,689.2 384.8,686.5 384.2,683.9 382.8,681.2 382.1,678.3 381.5,675.3 379.8,672.8 382.7,670.2 385.3,667.3 380.9,665.1 382.1,662.5 382.8,659.8 384.2,657.3 384.8,654.1 386.3,651.4 387.6,648.5 388.6,645.5 389.4,642.4 390.9,639.6 391.4,636.6 391.9,633.5 393.1,630.7 391.9,627.6 390.4,624.7 388.7,621.9 386.4,617.5 383.7,617.1 381.2,616.3 378.7,615.2 377.3,613.0 375.7,610.8 374.3,608.6 374.5,605.6 373.4,602.7 373.2,599.7 374.0,596.3 375.4,593.1 353.2,593.1 350.4,592.3 347.4,593.2 344.6,592.4 341.7,592.5 338.8,592.0 336.6,572.0 334.0,570.5 331.1,569.8 334.4,568.8 337.7,567.6 337.7,564.3 336.5,561.1 336.6,557.7 336.0,554.9 335.1,552.1 334.1,549.4 333.3,546.6 331.4,543.6 328.9,541.0 326.3,539.7 323.3,539.8 320.8,538.4 317.9,538.3 315.0,537.7 312.1,537.5 309.2,537.2 306.4,536.2 303.5,534.8 300.9,532.9 298.4,531.0 296.4,528.5 293.6,527.1 290.5,526.3 287.6,525.1 284.4,524.1 281.6,522.4 278.7,520.7 275.9,519.6 273.1,518.7 270.3,517.8 267.7,516.3 265.0,516.5 262.4,516.2 260.0,514.5 257.3,514.5 254.6,515.0 252.1,514.1 250.2,512.2 248.4,510.2 245.9,509.0 243.8,507.4 241.1,506.3 238.7,503.2 237.2,499.6 236.6,495.2 236.3,492.5 235.9,489.9 235.2,487.3 235.4,484.6 235.0,481.9 233.3,479.7 232.6,476.6 233.9,473.5 233.5,470.4 233.5,467.3 233.3,464.2 232.1,461.6 230.0,459.8 228.3,460.8 225.6,460.8 223.0,461.6 220.4,461.9 217.7,462.3 215.0,462.0 212.2,463.4 209.0,463.1 206.2,464.2 203.6,466.1 201.7,468.6 198.9,470.3 196.0,471.9 192.9,473.0 190.5,474.7 188.1,476.4 186.2,478.6 182.7,479.1 179.6,480.8 177.7,483.3 175.2,485.2 172.1,485.9 169.1,487.0 166.3,488.5 163.7,487.5 160.9,487.4 158.2,486.9 155.8,485.4 153.0,485.2 150.2,485.5 147.4,485.4 144.7,485.1 141.9,485.2 139.2,485.9 136.3,485.8 133.7,487.2 130.9,487.4 127.6,486.3 127.6,464.2 128.1,460.6 129.8,457.5 128.7,455.3 126.4,457.4 124.2,459.7 121.9,460.9 119.6,462.1 117.4,463.7 115.4,465.3 96.5,465.3 95.4,461.9 94.8,458.9 93.2,456.4 90.1,454.7 86.6,454.2 83.7,454.0 80.9,453.7 78.0,453.5 81.0,450.9 79.9,446.4 77.7,443.7 76.0,440.7 74.4,437.6 73.1,435.3 71.2,433.5 70.5,430.8 68.9,428.7 66.8,425.6 65.5,422.1 62.2,419.5 60.3,416.9 61.0,412.3 64.3,408.3 64.9,405.3 65.6,402.3 68.1,400.8 69.6,398.3 72.0,396.8 74.9,396.3 76.9,394.4 75.3,391.9 74.9,389.0 75.6,385.0 77.5,382.3 79.6,379.7 80.2,376.3 81.6,373.1 82.6,370.5 82.9,367.8 85.2,365.8 88.2,365.1 91.1,363.5 93.5,361.1 96.5,359.9 98.9,357.8 102.8,355.1 106.2,355.2 109.5,354.5 112.8,353.7 116.1,353.2 118.7,352.5 121.4,352.5 124.1,349.2 126.8,348.4 129.4,347.2 132.0,347.5 134.7,347.8 136.1,350.5 140.0,351.8 142.0,350.5 145.4,330.6 148.0,313.3 148.4,310.6 148.9,307.9 149.5,305.3 150.4,302.7 150.7,300.0 151.5,297.0 151.9,293.9 151.1,290.7 151.9,287.7 151.1,284.7 150.9,281.7 149.8,279.2 148.9,276.7 147.9,273.8 145.5,272.2 143.0,270.8 139.0,267.8 138.8,264.8 138.6,261.8 138.4,258.8 138.8,255.8 139.0,252.8 144.0,251.4 146.6,250.8 149.4,251.0 151.9,249.8 154.8,250.9 157.9,250.8 157.9,245.8 155.9,242.9 153.0,241.9 149.9,241.9 146.9,241.2 144.0,241.9 144.5,238.9 144.0,235.9 144.1,232.9" fill="none" stroke="#000" stroke-width="1.4" stroke-linejoin="round" />
<polyline points="581.0,275.5 583.2,276.2 585.5,275.8 587.2,276.2 588.8,276.1 590.4,274.7 592.3,274.4 593.7,276.5 595.5,275.5 597.2,275.7 598.4,277.6 600.4,277.1 601.6,278.4 603.4,278.2 604.9,279.1 606.8,278.7 608.0,280.2 609.3,281.3 611.2,281.1 612.6,282.1 614.2,282.6 616.3,281.8 617.4,283.8 619.2,284.0 621.0,284.0 622.9,284.0 624.0,286.3 625.9,286.0 627.4,287.1 629.0,287.9 630.8,288.1 632.3,289.1 634.4,288.6 635.3,290.6 637.3,291.3 637.7,292.8 638.1,295.0 638.5,296.6 639.5,295.2 640.5,293.8 642.5,293.6 643.4,291.6 645.1,291.1 646.7,289.6 648.0,291.3 649.9,292.6 650.9,294.1 651.3,295.9 652.2,297.4 652.5,299.3 653.8,300.6 654.2,302.5 655.1,304.1 655.7,305.9 657.1,307.2 658.6,308.8 657.5,310.9 658.6,312.6" fill="none" stroke="#000" stroke-width="2.6" stroke-linejoin="round" stroke-linecap="round" />
<polyline points="645.0,737.0 646.4,735.7 648.4,736.3 649.9,735.5 651.7,734.4 653.2,733.0 653.8,731.1 655.0,729.5 657.0,731.0 659.8,731.4 661.5,730.3 663.0,729.0 664.8,729.8 666.5,728.9 669.0,727.5 671.1,728.2 673.1,728.9 674.7,728.2 676.0,727.0 678.0,727.2 679.8,728.0 680.3,726.2 681.4,724.7" fill="none" stroke="#000" stroke-width="1.9" stroke-linejoin="round" stroke-linecap="round" />
<circle cx="682.6" cy="723.6" r="1.6" fill="#000"/>
<circle cx="652.5" cy="730.5" r="1.3" fill="#000"/>
<circle cx="663.5" cy="727.8" r="1.1" fill="#000"/>
<polyline points="636.0,743.5 638.2,740.5 641.0,742.5" fill="none" stroke="#000" stroke-width="1.4" stroke-linejoin="round" stroke-linecap="round" />
<polyline points="600.0,276.8 606.5,279.4 614.3,282.2 620.9,284.4 627.6,286.6 634.2,288.8 638.7,292.7" fill="none" stroke="#000" stroke-width="3.2" stroke-linejoin="round" stroke-linecap="round" />
<polyline points="645.0,290.5 649.7,292.7 654.2,300.4 657.0,306.0" fill="none" stroke="#000" stroke-width="3.6" stroke-linejoin="round" stroke-linecap="round" />
<rect x="38.5" y="33.2" width="829.9" height="1015.3" fill="none" stroke="#000" stroke-width="1.7"/>
<line x1="136" y1="26" x2="136" y2="33.2" stroke="#000" stroke-width="1.5"/>
<line x1="136" y1="1048.5" x2="136" y2="1055.5" stroke="#000" stroke-width="1.5"/>
<line x1="338" y1="26" x2="338" y2="33.2" stroke="#000" stroke-width="1.5"/>
<line x1="338" y1="1048.5" x2="338" y2="1055.5" stroke="#000" stroke-width="1.5"/>
<line x1="540" y1="26" x2="540" y2="33.2" stroke="#000" stroke-width="1.5"/>
<line x1="540" y1="1048.5" x2="540" y2="1055.5" stroke="#000" stroke-width="1.5"/>
<line x1="742" y1="26" x2="742" y2="33.2" stroke="#000" stroke-width="1.5"/>
<line x1="742" y1="1048.5" x2="742" y2="1055.5" stroke="#000" stroke-width="1.5"/>
<line x1="31.3" y1="72" x2="38.5" y2="72" stroke="#000" stroke-width="1.5"/>
<line x1="868.4" y1="72" x2="875.3" y2="72" stroke="#000" stroke-width="1.5"/>
<line x1="31.3" y1="274" x2="38.5" y2="274" stroke="#000" stroke-width="1.5"/>
<line x1="868.4" y1="274" x2="875.3" y2="274" stroke="#000" stroke-width="1.5"/>
<line x1="31.3" y1="476" x2="38.5" y2="476" stroke="#000" stroke-width="1.5"/>
<line x1="868.4" y1="476" x2="875.3" y2="476" stroke="#000" stroke-width="1.5"/>
<line x1="31.3" y1="678" x2="38.5" y2="678" stroke="#000" stroke-width="1.5"/>
<line x1="868.4" y1="678" x2="875.3" y2="678" stroke="#000" stroke-width="1.5"/>
<line x1="31.3" y1="880" x2="38.5" y2="880" stroke="#000" stroke-width="1.5"/>
<line x1="868.4" y1="880" x2="875.3" y2="880" stroke="#000" stroke-width="1.5"/>
<text x="136" y="1072.6" font-family="Liberation Sans" font-weight="bold" font-size="17.5" text-anchor="middle" textLength="77" lengthAdjust="spacingAndGlyphs">70°0'0"W</text>
<text x="338" y="1072.6" font-family="Liberation Sans" font-weight="bold" font-size="17.5" text-anchor="middle" textLength="77" lengthAdjust="spacingAndGlyphs">60°0'0"W</text>
<text x="540" y="1072.6" font-family="Liberation Sans" font-weight="bold" font-size="17.5" text-anchor="middle" textLength="77" lengthAdjust="spacingAndGlyphs">50°0'0"W</text>
<text x="742" y="1072.6" font-family="Liberation Sans" font-weight="bold" font-size="17.5" text-anchor="middle" textLength="77" lengthAdjust="spacingAndGlyphs">40°0'0"W</text>
<text transform="translate(27,72) rotate(-90)" x="0" y="0" font-family="Liberation Sans" font-weight="bold" font-size="17.5" text-anchor="middle" textLength="72" lengthAdjust="spacingAndGlyphs">10°0'0"N</text>
<text transform="translate(27,274) rotate(-90)" x="0" y="0" font-family="Liberation Sans" font-weight="bold" font-size="17.5" text-anchor="middle" textLength="51.5" lengthAdjust="spacingAndGlyphs">0°0'0"</text>
<text transform="translate(27,476) rotate(-90)" x="0" y="0" font-family="Liberation Sans" font-weight="bold" font-size="17.5" text-anchor="middle" textLength="72" lengthAdjust="spacingAndGlyphs">10°0'0"S</text>
<text transform="translate(27,678) rotate(-90)" x="0" y="0" font-family="Liberation Sans" font-weight="bold" font-size="17.5" text-anchor="middle" textLength="72" lengthAdjust="spacingAndGlyphs">20°0'0"S</text>
<text transform="translate(27,880) rotate(-90)" x="0" y="0" font-family="Liberation Sans" font-weight="bold" font-size="17.5" text-anchor="middle" textLength="72" lengthAdjust="spacingAndGlyphs">30°0'0"S</text>
<text x="271" y="88.2" font-family="Liberation Sans" font-weight="bold" font-size="37.6" stroke="#000" stroke-width="0.6" textLength="356" lengthAdjust="spacingAndGlyphs">Previsão de risco</text><text x="335.6" y="134.6" font-family="Liberation Sans" font-weight="bold" font-size="37.6" stroke="#000" stroke-width="0.6" textLength="236.5" lengthAdjust="spacingAndGlyphs">Hidrológico</text>

<defs>
 <linearGradient id="lgLid" x1="0" y1="0" x2="0.6" y2="1">
  <stop offset="0" stop-color="#1a56bf"/><stop offset="0.6" stop-color="#2a8ee0"/><stop offset="1" stop-color="#3aa9ea"/>
 </linearGradient>
 <linearGradient id="lgLidR" x1="1" y1="0" x2="0" y2="1">
  <stop offset="0" stop-color="#1a5cc6"/><stop offset="1" stop-color="#2e9be6"/>
 </linearGradient>
 <linearGradient id="lgIris" x1="0" y1="0" x2="0.3" y2="1">
  <stop offset="0" stop-color="#3cb4ee"/><stop offset="1" stop-color="#38a6e8"/>
 </linearGradient>
 <linearGradient id="lgC" x1="0" y1="0" x2="0" y2="1">
  <stop offset="0" stop-color="#f6f7f9"/><stop offset="0.5" stop-color="#dfe2e6"/><stop offset="1" stop-color="#b4b9c0"/>
 </linearGradient>
 <linearGradient id="lgOr" x1="0" y1="1" x2="1" y2="0">
  <stop offset="0" stop-color="#e9581a"/><stop offset="0.6" stop-color="#f3891f"/><stop offset="1" stop-color="#f9b21e"/>
 </linearGradient>
 <linearGradient id="lgGr" x1="0" y1="0" x2="1" y2="0">
  <stop offset="0" stop-color="#5cb42c"/><stop offset="1" stop-color="#2f8f1f"/>
 </linearGradient>
 <clipPath id="eyeclip"><path d="M691.8,110.5 C700,80 725,70.6 754.7,70.6 C780,70.6 800,92 814.7,110.2 C802,130 780,151.8 754.7,151.8 C725,151.8 702,138 691.8,110.5 Z"/></clipPath>
 <clipPath id="irisclip"><path d="M727.2,85.6 C721,94 718,104 719,118 C720,134 735,147 756,151 C766,148 774,142 779.7,136 C785,128 788.8,120 788.8,110.2 C788.8,93 775,78 756,71.6 C745,74 735,79 727.2,85.6 Z"/></clipPath>
 <clipPath id="inclip"><circle cx="754.8" cy="111" r="17.3"/><path d="M762,95.5 L786.5,95.5 A33.5,33.5 0 0 1 788.3,111 A33.5,33.5 0 0 1 787,124 L762,124 Z"/></clipPath>
</defs>
<g>
 <path d="M691.8,110.5 C700,80 725,70.6 754.7,70.6 C780,70.6 800,92 814.7,110.2 C802,130 780,151.8 754.7,151.8 C725,151.8 702,138 691.8,110.5 Z" fill="#0d3572"/>
 <g clip-path="url(#eyeclip)">
  <path d="M690,111.5 C700,100 710,93 721.5,90 L745,120 L784,134 C795,128 805,120 816,111.2 L816,156 L690,156 Z" fill="url(#lgLid)"/>
  <path d="M784.7,133.6 C795,127 805,120 816,111.5" fill="none" stroke="#fff" stroke-width="1.1"/>
  <path d="M690.5,110.8 C700,99 712,90.5 727.5,85.6" fill="none" stroke="#fff" stroke-width="1.1"/>
  <path d="M727.2,85.6 C716,92 708.5,102 708.5,114 C708.5,132 726,149 756,151.5 C735,147 720,134 719,118 C718,104 721,94 727.2,85.6 Z" fill="#fff"/>
  <path d="M756,71.2 C780,76 797,92 797.2,110.2 C797.2,122 790,131 779.7,136 C785,128 788.8,120 788.8,110.2 C788.8,93 775,78 756,71.2 Z" fill="#fff"/>
 </g>
 <g clip-path="url(#irisclip)">
  <rect x="700" y="65" width="100" height="95" fill="#0d3572"/>
  <path d="M700,108 L736,108 C748,118 768,122 800,121 L800,160 L700,160 Z" fill="url(#lgIris)"/>
 </g>
 <path d="M781.2,100.2 A28.5,28.5 0 1 0 780.9,122.5 L767.3,122.5 A17,17 0 1 1 767.9,100.2 Z" fill="url(#lgC)"/>
 <g clip-path="url(#inclip)">
  <rect x="735" y="90" width="56" height="40" fill="#0d3572"/>
  <path d="M735,116 C742,119.5 748,121 756,120.6 C766,120 777,119.6 791,121.8 L791,132 L735,132 Z" fill="#3aa2e8"/>
  <path d="M735,112.5 C742,115 748,116.6 756,115.6 C766,114 777,111 791,111.8 L791,121.8 C777,119.6 766,120 756,120.6 C748,121 742,119.5 735,116 Z" fill="url(#lgGr)"/>
  <path d="M735,112 C742,114.6 748,115.8 756,114.8 C766,112 774,104 782,99 C785,97.5 788,96.8 791,96.5 L791,111.8 C777,111 766,114 756,115.6 C748,116.6 742,115 735,112.5 Z" fill="url(#lgOr)"/>
 </g>
</g>
<g fill="none" stroke="#14295a" stroke-width="2.3" stroke-linecap="butt">
 <path d="M699.2,159.2 A11.6,11.6 0 1 0 699.2,175.4"/>
 <path d="M704.2,170.4 L721.7,170.4 A8.75,8.75 0 1 0 719.5,176.2"/>
 <path d="M727.6,161.3 L727.6,179.6 M727.6,168 C727.6,160.2 739,160.2 739,168 L739,179.6 M739,168 C739,160.2 750.6,160.2 750.6,168 L750.6,179.6"/>
 <circle cx="762.4" cy="170.4" r="8.3"/>
 <path d="M770.6,161.3 L770.6,179.6"/>
 <circle cx="782.2" cy="170.4" r="8.3"/>
 <path d="M790.4,154 L790.4,179.6"/>
 <path d="M795.6,170.4 L813.1,170.4 A8.75,8.75 0 1 0 810.9,176.2"/>
 <path d="M818.4,161.3 L818.4,179.6 M818.4,168.4 C818.4,159.6 829,159.6 829,168.4 L829,179.6"/>
</g>

<rect x="104.5" y="712.5" width="38.5" height="28.5" fill="#ff0000" stroke="#000" stroke-width="1.6"/>
<text x="154.3" y="733.1" font-family="Liberation Sans" font-weight="bold" font-size="17.5" textLength="89" lengthAdjust="spacingAndGlyphs">Muito Alto</text>
<rect x="104.5" y="755.5" width="38.5" height="28.5" fill="#f7961c" stroke="#000" stroke-width="1.6"/>
<text x="153.9" y="776.1" font-family="Liberation Sans" font-weight="bold" font-size="17.5" textLength="35" lengthAdjust="spacingAndGlyphs">Alto</text>
<rect x="104.5" y="798.5" width="38.5" height="28.5" fill="#ffff00" stroke="#000" stroke-width="1.6"/>
<text x="154.3" y="819.1" font-family="Liberation Sans" font-weight="bold" font-size="17.5" textLength="85.8" lengthAdjust="spacingAndGlyphs">Moderado</text>
<rect x="104.5" y="841.5" width="38.5" height="28.5" fill="#ffffff" stroke="#000" stroke-width="1.6"/>
<text x="154.4" y="862.1" font-family="Liberation Sans" font-weight="bold" font-size="17.5" textLength="45" lengthAdjust="spacingAndGlyphs">Baixo</text>
<text x="73.5" y="995.4" font-family="Liberation Sans" font-weight="bold" font-size="16.5" textLength="237" lengthAdjust="spacingAndGlyphs">Válido para o dia 19/06/2022</text>
<text x="499" y="1023.6" font-family="Liberation Sans" font-size="17" textLength="363.5" lengthAdjust="spacingAndGlyphs">Sistemas de Coordenadas: GCS WGS - 1984</text><text x="600.5" y="1043.8" font-family="Liberation Sans" font-size="17" textLength="160" lengthAdjust="spacingAndGlyphs">Datum: WGS - 1984</text>
<rect x="559" y="953.2" width="219" height="14.5" fill="#000"/>
<rect x="588" y="954.6" width="25.8" height="11.8" fill="#fff"/>
<rect x="642" y="954.6" width="26" height="11.8" fill="#fff"/>
<text x="545.4" y="946" font-family="Liberation Sans" font-size="16" textLength="27.4" lengthAdjust="spacingAndGlyphs">600</text>
<text x="600.1" y="946" font-family="Liberation Sans" font-size="16" textLength="27" lengthAdjust="spacingAndGlyphs">300</text>
<text x="663.6" y="946" font-family="Liberation Sans" font-size="16" textLength="9" lengthAdjust="spacingAndGlyphs">0</text>
<text x="763" y="946" font-family="Liberation Sans" font-size="16" textLength="53.3" lengthAdjust="spacingAndGlyphs">600 km</text>
<text x="640.6" y="989" font-family="Liberation Sans" font-size="14" textLength="80.5" lengthAdjust="spacingAndGlyphs">1:20000000</text>
<polygon points="682.0,851.6 687.5,874.4 682,880.4" fill="#000" stroke="#000" stroke-width="0.9" stroke-linejoin="round"/><polygon points="682.0,851.6 676.5,874.4 682,880.4" fill="#fff" stroke="#000" stroke-width="0.9" stroke-linejoin="round"/>
<polygon points="710.3,880.4 688.0,885.9 682,880.4" fill="#000" stroke="#000" stroke-width="0.9" stroke-linejoin="round"/><polygon points="710.3,880.4 688.0,874.9 682,880.4" fill="#fff" stroke="#000" stroke-width="0.9" stroke-linejoin="round"/>
<polygon points="682.0,909.7 676.5,886.4 682,880.4" fill="#000" stroke="#000" stroke-width="0.9" stroke-linejoin="round"/><polygon points="682.0,909.7 687.5,886.4 682,880.4" fill="#fff" stroke="#000" stroke-width="0.9" stroke-linejoin="round"/>
<polygon points="653.8,880.4 676.0,874.9 682,880.4" fill="#000" stroke="#000" stroke-width="0.9" stroke-linejoin="round"/><polygon points="653.8,880.4 676.0,885.9 682,880.4" fill="#fff" stroke="#000" stroke-width="0.9" stroke-linejoin="round"/>
<circle cx="682" cy="880.4" r="11.2" fill="#fff" stroke="#000" stroke-width="1.6"/>
<path d="M682,880.4 L682,870.1999999999999 A10.2,10.2 0 0 1 692.2,880.4 Z" fill="#000"/>
<path d="M682,880.4 L682,890.6 A10.2,10.2 0 0 1 671.8,880.4 Z" fill="#000"/>
<text x="682" y="847.7" font-family="Liberation Serif" font-size="12.5" font-weight="bold" text-anchor="middle">N</text>
<text x="645.8" y="885.4" font-family="Liberation Serif" font-size="12.5" text-anchor="middle">W</text>
<text x="718" y="885.4" font-family="Liberation Serif" font-size="12.5" text-anchor="middle">E</text>
<text x="682.5" y="924.1" font-family="Liberation Serif" font-size="12.5" text-anchor="middle">S</text>
</svg>
</body></html>
